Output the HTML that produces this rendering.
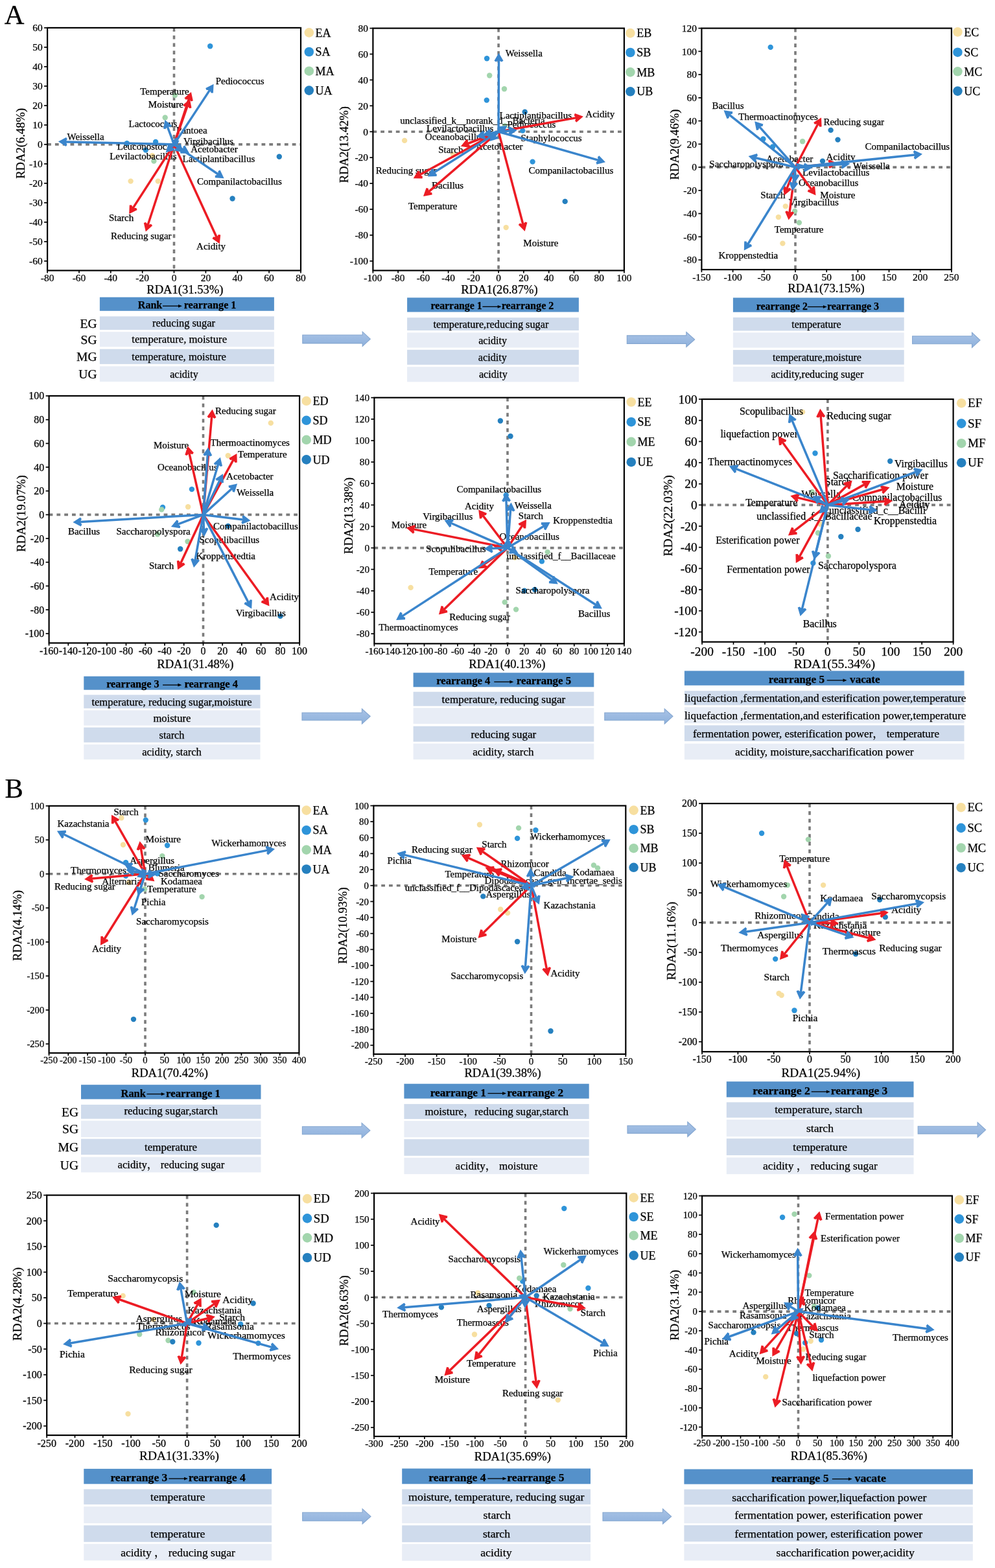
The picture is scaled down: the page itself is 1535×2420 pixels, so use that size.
<!DOCTYPE html>
<html><head><meta charset="utf-8"><title>RDA</title>
<style>html,body{margin:0;padding:0;background:#fff;} svg{display:block;} text{font-family:"Liberation Serif","Noto Serif CJK SC","Noto Sans CJK SC",serif;fill:#000;stroke:#000;stroke-width:0.25px;}</style>
</head><body>
<svg width="1535" height="2420" viewBox="0 0 1535 2420">
<defs><linearGradient id="bag" x1="0" y1="0" x2="0" y2="1"><stop offset="0" stop-color="#a9c3e6"/><stop offset="1" stop-color="#8eb1dc"/></linearGradient></defs>
<rect width="1535" height="2420" fill="#fff"/>
<text x="6.8" y="36.9" font-size="42.5">A</text>
<text x="7.4" y="1230.8" font-size="42.5">B</text>
<g><line x1="73.1" y1="222.9" x2="464.0" y2="222.9" stroke="#7b7b7b" stroke-width="3.6" stroke-dasharray="5.8,6.0"/>
<line x1="268.5" y1="42.9" x2="268.5" y2="417.5" stroke="#7b7b7b" stroke-width="3.6" stroke-dasharray="5.8,6.0"/>
<circle cx="324.2" cy="71.2" r="4.2" fill="#2e94d9"/>
<circle cx="240.1" cy="219.0" r="4.2" fill="#2e94d9"/>
<circle cx="224.8" cy="231.6" r="4.2" fill="#2e94d9"/>
<circle cx="195.8" cy="221.3" r="4.2" fill="#2e94d9"/>
<circle cx="270.0" cy="147.1" r="4.2" fill="#a2d5ad"/>
<circle cx="254.7" cy="181.5" r="4.2" fill="#a2d5ad"/>
<circle cx="237.4" cy="248.6" r="4.2" fill="#a2d5ad"/>
<circle cx="201.6" cy="279.6" r="4.2" fill="#f7dfa0"/>
<circle cx="243.8" cy="279.6" r="4.2" fill="#f7dfa0"/>
<circle cx="235.0" cy="240.1" r="4.2" fill="#f7dfa0"/>
<circle cx="430.8" cy="241.8" r="4.2" fill="#2580bf"/>
<circle cx="358.6" cy="306.5" r="4.2" fill="#2580bf"/>
<text x="216.2" y="145.6" font-size="15.00">Temperature</text>
<text x="228.8" y="165.7" font-size="15.00">Moisture</text>
<text x="198.5" y="196.3" font-size="15.00">Lactococcus</text>
<text x="272.1" y="205.5" font-size="15.00">Pantoea</text>
<text x="103.5" y="216.1" font-size="15.00">Weissella</text>
<text x="283.0" y="222.5" font-size="15.00">Virgibacillus</text>
<text x="180.8" y="231.0" font-size="15.00">Leuconostoc</text>
<text x="294.2" y="235.1" font-size="15.00">Acetobacter</text>
<text x="169.2" y="246.0" font-size="15.00">Levilactobacillus</text>
<text x="281.6" y="250.1" font-size="15.00">Lactiplantibacillus</text>
<text x="332.7" y="129.9" font-size="15.00">Pediococcus</text>
<text x="304.1" y="284.8" font-size="15.00">Companilactobacillus</text>
<text x="167.9" y="341.0" font-size="15.00">Starch</text>
<text x="170.9" y="369.0" font-size="15.00">Reducing sugar</text>
<text x="303.1" y="385.3" font-size="15.00">Acidity</text>
<path d="M268.5,222.9L291.2,153.2" stroke="#ec1c24" stroke-width="3.5" fill="none"/>
<path d="M294.9,142.0L284.5,151.2L286.5,153.8L289.4,153.2L292.8,154.2L294.7,156.5L297.8,155.6Z" fill="#ec1c24"/>
<path d="M268.5,222.9L289.0,164.0" stroke="#ec1c24" stroke-width="3.5" fill="none"/>
<path d="M292.9,152.9L282.3,161.9L284.3,164.5L287.2,163.9L290.5,165.1L292.4,167.3L295.5,166.5Z" fill="#ec1c24"/>
<path d="M268.5,222.9L205.6,320.4" stroke="#ec1c24" stroke-width="3.5" fill="none"/>
<path d="M199.2,330.3L211.6,324.0L210.3,321.1L207.4,320.9L204.4,319.0L203.1,316.4L199.8,316.4Z" fill="#ec1c24"/>
<path d="M268.5,222.9L228.4,346.3" stroke="#ec1c24" stroke-width="3.5" fill="none"/>
<path d="M224.8,357.6L235.1,348.3L233.1,345.8L230.2,346.4L226.9,345.3L224.9,343.1L221.8,344.0Z" fill="#ec1c24"/>
<path d="M268.5,222.9L333.9,365.6" stroke="#ec1c24" stroke-width="3.5" fill="none"/>
<path d="M338.8,376.3L340.2,362.5L337.0,362.0L335.3,364.4L332.1,365.8L329.2,365.5L327.5,368.3Z" fill="#ec1c24"/>
<path d="M268.5,222.9L101.7,218.9" stroke="#3a85cc" stroke-width="3.5" fill="none"/>
<path d="M89.9,218.6L101.7,225.9L103.6,223.3L102.2,220.7L102.2,217.2L103.8,214.7L102.1,211.9Z" fill="#3a85cc"/>
<path d="M268.5,222.9L323.2,139.6" stroke="#3a85cc" stroke-width="3.5" fill="none"/>
<path d="M329.6,129.7L317.2,135.9L318.5,138.9L321.4,139.1L324.4,141.0L325.7,143.6L328.9,143.6Z" fill="#3a85cc"/>
<path d="M268.5,222.9L258.5,196.0" stroke="#3a85cc" stroke-width="3.5" fill="none"/>
<path d="M254.4,184.9L252.0,198.6L255.2,199.3L257.0,197.0L260.3,195.8L263.2,196.3L265.1,193.7Z" fill="#3a85cc"/>
<path d="M268.5,222.9L335.9,268.5" stroke="#3a85cc" stroke-width="3.5" fill="none"/>
<path d="M345.6,275.2L339.6,262.6L336.6,263.9L336.4,266.8L334.5,269.7L331.8,271.0L331.8,274.2Z" fill="#3a85cc"/>
<path d="M268.5,222.9L282.0,230.7" stroke="#3a85cc" stroke-width="3.5" fill="none"/>
<path d="M292.2,236.7L285.3,224.6L282.4,226.0L282.4,229.0L280.7,232.0L278.1,233.4L278.3,236.7Z" fill="#3a85cc"/>
<path d="M268.5,222.9L264.2,227.1" stroke="#3a85cc" stroke-width="3.5" fill="none"/>
<path d="M255.7,235.3L269.2,232.0L268.6,228.8L265.8,228.0L263.3,225.5L262.7,222.6L259.5,221.9Z" fill="#3a85cc"/>
<path d="M268.5,222.9L270.7,221.2" stroke="#3a85cc" stroke-width="3.5" fill="none"/>
<path d="M276.5,216.6L267.7,217.8L267.8,219.9L269.2,220.1L271.4,222.9L271.3,224.3L273.3,224.9Z" fill="#3a85cc"/>
<path d="M268.5,222.9L274.2,227.5" stroke="#3a85cc" stroke-width="3.5" fill="none"/>
<path d="M283.3,235.0L278.5,222.0L275.4,222.9L274.9,225.8L272.7,228.5L269.9,229.6L269.6,232.8Z" fill="#3a85cc"/>
<path d="M268.5,222.9L269.6,220.0" stroke="#3a85cc" stroke-width="3.5" fill="none"/>
<path d="M272.4,211.8L264.6,218.5L266.0,220.4L267.8,219.9L271.1,221.0L272.1,222.5L274.4,221.9Z" fill="#3a85cc"/>
<path d="M268.5,222.9L266.9,223.8" stroke="#3a85cc" stroke-width="3.5" fill="none"/>
<path d="M262.9,226.1L268.6,226.2L268.7,224.8L268.2,225.1L266.4,222.1L267.0,221.8L265.8,221.2Z" fill="#3a85cc"/>
<rect x="73.1" y="42.9" width="390.9" height="374.6" fill="none" stroke="#000" stroke-width="2.2"/>
<line x1="73.1" y1="417.5" x2="73.1" y2="421.6" stroke="#000" stroke-width="1.7"/>
<text x="73.1" y="434.2" font-size="15.5" text-anchor="middle">-80</text>
<line x1="122.0" y1="417.5" x2="122.0" y2="421.6" stroke="#000" stroke-width="1.7"/>
<text x="122.0" y="434.2" font-size="15.5" text-anchor="middle">-60</text>
<line x1="170.8" y1="417.5" x2="170.8" y2="421.6" stroke="#000" stroke-width="1.7"/>
<text x="170.8" y="434.2" font-size="15.5" text-anchor="middle">-40</text>
<line x1="219.7" y1="417.5" x2="219.7" y2="421.6" stroke="#000" stroke-width="1.7"/>
<text x="219.7" y="434.2" font-size="15.5" text-anchor="middle">-20</text>
<line x1="268.5" y1="417.5" x2="268.5" y2="421.6" stroke="#000" stroke-width="1.7"/>
<text x="268.5" y="434.2" font-size="15.5" text-anchor="middle">0</text>
<line x1="317.4" y1="417.5" x2="317.4" y2="421.6" stroke="#000" stroke-width="1.7"/>
<text x="317.4" y="434.2" font-size="15.5" text-anchor="middle">20</text>
<line x1="366.3" y1="417.5" x2="366.3" y2="421.6" stroke="#000" stroke-width="1.7"/>
<text x="366.3" y="434.2" font-size="15.5" text-anchor="middle">40</text>
<line x1="415.1" y1="417.5" x2="415.1" y2="421.6" stroke="#000" stroke-width="1.7"/>
<text x="415.1" y="434.2" font-size="15.5" text-anchor="middle">60</text>
<line x1="464.0" y1="417.5" x2="464.0" y2="421.6" stroke="#000" stroke-width="1.7"/>
<text x="464.0" y="434.2" font-size="15.5" text-anchor="middle">80</text>
<line x1="68.1" y1="402.9" x2="73.1" y2="402.9" stroke="#000" stroke-width="1.7"/>
<text x="65.7" y="408.1" font-size="15.5" text-anchor="end">-60</text>
<line x1="68.1" y1="372.9" x2="73.1" y2="372.9" stroke="#000" stroke-width="1.7"/>
<text x="65.7" y="378.1" font-size="15.5" text-anchor="end">-50</text>
<line x1="68.1" y1="342.9" x2="73.1" y2="342.9" stroke="#000" stroke-width="1.7"/>
<text x="65.7" y="348.1" font-size="15.5" text-anchor="end">-40</text>
<line x1="68.1" y1="312.9" x2="73.1" y2="312.9" stroke="#000" stroke-width="1.7"/>
<text x="65.7" y="318.1" font-size="15.5" text-anchor="end">-30</text>
<line x1="68.1" y1="282.9" x2="73.1" y2="282.9" stroke="#000" stroke-width="1.7"/>
<text x="65.7" y="288.1" font-size="15.5" text-anchor="end">-20</text>
<line x1="68.1" y1="252.9" x2="73.1" y2="252.9" stroke="#000" stroke-width="1.7"/>
<text x="65.7" y="258.1" font-size="15.5" text-anchor="end">-10</text>
<line x1="68.1" y1="222.9" x2="73.1" y2="222.9" stroke="#000" stroke-width="1.7"/>
<text x="65.7" y="228.2" font-size="15.5" text-anchor="end">0</text>
<line x1="68.1" y1="192.9" x2="73.1" y2="192.9" stroke="#000" stroke-width="1.7"/>
<text x="65.7" y="198.2" font-size="15.5" text-anchor="end">10</text>
<line x1="68.1" y1="162.9" x2="73.1" y2="162.9" stroke="#000" stroke-width="1.7"/>
<text x="65.7" y="168.2" font-size="15.5" text-anchor="end">20</text>
<line x1="68.1" y1="132.9" x2="73.1" y2="132.9" stroke="#000" stroke-width="1.7"/>
<text x="65.7" y="138.2" font-size="15.5" text-anchor="end">30</text>
<line x1="68.1" y1="102.9" x2="73.1" y2="102.9" stroke="#000" stroke-width="1.7"/>
<text x="65.7" y="108.2" font-size="15.5" text-anchor="end">40</text>
<line x1="68.1" y1="72.9" x2="73.1" y2="72.9" stroke="#000" stroke-width="1.7"/>
<text x="65.7" y="78.2" font-size="15.5" text-anchor="end">50</text>
<line x1="68.1" y1="42.9" x2="73.1" y2="42.9" stroke="#000" stroke-width="1.7"/>
<text x="65.7" y="48.2" font-size="15.5" text-anchor="end">60</text>
<text x="285.4" y="452.9" font-size="18.60" text-anchor="middle">RDA1(31.53%)</text>
<text transform="translate(37.7,221.3) rotate(-90)" x="0" y="0" font-size="18.60" text-anchor="middle">RDA2(6.48%)</text>
<circle cx="476.8" cy="50.4" r="7.3" fill="#f7dfa0"/>
<text x="486.6" y="56.5" font-size="18.00">EA</text>
<circle cx="476.8" cy="80.0" r="7.3" fill="#2e94d9"/>
<text x="486.6" y="86.1" font-size="18.00">SA</text>
<circle cx="476.8" cy="109.7" r="7.3" fill="#a2d5ad"/>
<text x="486.6" y="115.8" font-size="18.00">MA</text>
<circle cx="476.8" cy="139.6" r="7.3" fill="#2580bf"/>
<text x="486.6" y="145.7" font-size="18.00">UA</text></g>
<g><line x1="575.4" y1="203.3" x2="962.9" y2="203.3" stroke="#7b7b7b" stroke-width="3.6" stroke-dasharray="5.8,6.0"/>
<line x1="769.1" y1="43.6" x2="769.1" y2="417.5" stroke="#7b7b7b" stroke-width="3.6" stroke-dasharray="5.8,6.0"/>
<circle cx="751.1" cy="90.2" r="4.2" fill="#2e94d9"/>
<circle cx="750.8" cy="154.6" r="4.2" fill="#2e94d9"/>
<circle cx="821.6" cy="249.6" r="4.2" fill="#2e94d9"/>
<circle cx="806.3" cy="201.6" r="4.2" fill="#2e94d9"/>
<circle cx="755.2" cy="116.5" r="4.2" fill="#a2d5ad"/>
<circle cx="778.0" cy="137.2" r="4.2" fill="#a2d5ad"/>
<circle cx="779.0" cy="194.1" r="4.2" fill="#a2d5ad"/>
<circle cx="624.1" cy="216.9" r="4.2" fill="#f7dfa0"/>
<circle cx="780.7" cy="351.1" r="4.2" fill="#f7dfa0"/>
<circle cx="699.0" cy="238.4" r="4.2" fill="#f7dfa0"/>
<circle cx="809.7" cy="172.7" r="4.2" fill="#2580bf"/>
<circle cx="871.7" cy="310.9" r="4.2" fill="#2580bf"/>
<text x="779.7" y="86.7" font-size="15.00">Weissella</text>
<text x="770.5" y="182.7" font-size="15.00">Lactiplantibacillus</text>
<text x="903.3" y="181.0" font-size="15.00">Acidity</text>
<text x="617.3" y="191.2" font-size="15.00">unclassified_k__norank_d__Bacteria</text>
<text x="782.4" y="197.3" font-size="15.00">Pediococcus</text>
<text x="658.1" y="203.1" font-size="15.00">Levilactobacillus</text>
<text x="655.7" y="215.7" font-size="15.00">Oceanobacillus</text>
<text x="803.5" y="217.8" font-size="15.00">Staphylococcus</text>
<text x="676.2" y="236.2" font-size="15.00">Starch</text>
<text x="734.1" y="231.4" font-size="15.00">Acetobacter</text>
<text x="815.5" y="268.2" font-size="15.00">Companilactobacillus</text>
<text x="579.8" y="267.8" font-size="15.00">Reducing sugar</text>
<text x="666.0" y="290.6" font-size="15.00">Bacillus</text>
<text x="629.9" y="322.6" font-size="15.00">Temperature</text>
<text x="807.3" y="379.5" font-size="15.00">Moisture</text>
<path d="M769.1,203.3L888.3,181.9" stroke="#ec1c24" stroke-width="3.5" fill="none"/>
<path d="M899.9,179.8L886.9,175.0L885.6,178.0L887.5,180.3L888.1,183.7L887.1,186.5L889.3,188.8Z" fill="#ec1c24"/>
<path d="M769.1,203.3L806.7,345.5" stroke="#ec1c24" stroke-width="3.5" fill="none"/>
<path d="M809.7,356.9L813.4,343.5L810.3,342.4L808.2,344.5L804.8,345.4L802.0,344.6L799.8,347.1Z" fill="#ec1c24"/>
<path d="M769.1,203.3L662.0,295.4" stroke="#ec1c24" stroke-width="3.5" fill="none"/>
<path d="M653.0,303.1L666.7,300.6L666.3,297.3L663.5,296.4L661.2,293.7L660.7,290.8L657.6,289.9Z" fill="#ec1c24"/>
<path d="M769.1,203.3L648.1,269.5" stroke="#ec1c24" stroke-width="3.5" fill="none"/>
<path d="M637.7,275.2L651.6,275.5L651.9,272.3L649.3,270.8L647.7,267.7L647.7,264.8L644.9,263.3Z" fill="#ec1c24"/>
<path d="M769.1,203.3L721.9,221.5" stroke="#ec1c24" stroke-width="3.5" fill="none"/>
<path d="M710.9,225.8L724.6,228.0L725.3,224.8L723.0,223.0L721.8,219.7L722.2,216.8L719.6,214.9Z" fill="#ec1c24"/>
<path d="M769.1,203.3L769.5,93.5" stroke="#3a85cc" stroke-width="3.5" fill="none"/>
<path d="M769.5,81.7L762.5,93.7L765.2,95.5L767.7,94.0L771.2,94.0L773.8,95.5L776.5,93.7Z" fill="#3a85cc"/>
<path d="M769.1,203.3L922.6,247.1" stroke="#3a85cc" stroke-width="3.5" fill="none"/>
<path d="M934.0,250.3L924.3,240.3L921.9,242.4L922.6,245.2L921.7,248.6L919.5,250.6L920.5,253.7Z" fill="#3a85cc"/>
<path d="M769.1,203.3L669.8,266.1" stroke="#3a85cc" stroke-width="3.5" fill="none"/>
<path d="M659.8,272.4L673.7,271.9L673.8,268.7L671.2,267.3L669.3,264.4L669.2,261.4L666.2,260.1Z" fill="#3a85cc"/>
<path d="M769.1,203.3L746.3,208.5" stroke="#3a85cc" stroke-width="3.5" fill="none"/>
<path d="M734.8,211.1L748.0,215.3L749.2,212.2L747.1,210.1L746.4,206.7L747.2,203.9L744.9,201.6Z" fill="#3a85cc"/>
<path d="M769.1,203.3L786.0,201.9" stroke="#3a85cc" stroke-width="3.5" fill="none"/>
<path d="M797.8,200.9L785.2,194.9L783.6,197.8L785.4,200.2L785.6,203.7L784.4,206.3L786.4,208.9Z" fill="#3a85cc"/>
<path d="M769.1,203.3L756.6,205.6" stroke="#3a85cc" stroke-width="3.5" fill="none"/>
<path d="M745.0,207.7L758.0,212.4L759.3,209.5L757.4,207.2L756.7,203.8L757.8,201.0L755.5,198.7Z" fill="#3a85cc"/>
<path d="M769.1,203.3L772.7,200.8" stroke="#3a85cc" stroke-width="3.5" fill="none"/>
<path d="M782.4,194.1L768.6,195.2L768.6,198.4L771.3,199.6L773.3,202.5L773.5,205.5L776.5,206.7Z" fill="#3a85cc"/>
<path d="M769.1,203.3L763.3,209.4" stroke="#3a85cc" stroke-width="3.5" fill="none"/>
<path d="M755.2,217.9L768.5,214.1L767.8,210.9L764.9,210.2L762.4,207.8L761.6,205.0L758.4,204.4Z" fill="#3a85cc"/>
<rect x="575.4" y="43.6" width="387.5" height="373.9" fill="none" stroke="#000" stroke-width="2.2"/>
<line x1="575.4" y1="417.5" x2="575.4" y2="421.6" stroke="#000" stroke-width="1.7"/>
<text x="575.4" y="434.1" font-size="15.4" text-anchor="middle">-100</text>
<line x1="614.1" y1="417.5" x2="614.1" y2="421.6" stroke="#000" stroke-width="1.7"/>
<text x="614.1" y="434.1" font-size="15.4" text-anchor="middle">-80</text>
<line x1="652.9" y1="417.5" x2="652.9" y2="421.6" stroke="#000" stroke-width="1.7"/>
<text x="652.9" y="434.1" font-size="15.4" text-anchor="middle">-60</text>
<line x1="691.6" y1="417.5" x2="691.6" y2="421.6" stroke="#000" stroke-width="1.7"/>
<text x="691.6" y="434.1" font-size="15.4" text-anchor="middle">-40</text>
<line x1="730.4" y1="417.5" x2="730.4" y2="421.6" stroke="#000" stroke-width="1.7"/>
<text x="730.4" y="434.1" font-size="15.4" text-anchor="middle">-20</text>
<line x1="769.1" y1="417.5" x2="769.1" y2="421.6" stroke="#000" stroke-width="1.7"/>
<text x="769.1" y="434.1" font-size="15.4" text-anchor="middle">0</text>
<line x1="807.9" y1="417.5" x2="807.9" y2="421.6" stroke="#000" stroke-width="1.7"/>
<text x="807.9" y="434.1" font-size="15.4" text-anchor="middle">20</text>
<line x1="846.7" y1="417.5" x2="846.7" y2="421.6" stroke="#000" stroke-width="1.7"/>
<text x="846.7" y="434.1" font-size="15.4" text-anchor="middle">40</text>
<line x1="885.4" y1="417.5" x2="885.4" y2="421.6" stroke="#000" stroke-width="1.7"/>
<text x="885.4" y="434.1" font-size="15.4" text-anchor="middle">60</text>
<line x1="924.2" y1="417.5" x2="924.2" y2="421.6" stroke="#000" stroke-width="1.7"/>
<text x="924.2" y="434.1" font-size="15.4" text-anchor="middle">80</text>
<line x1="962.9" y1="417.5" x2="962.9" y2="421.6" stroke="#000" stroke-width="1.7"/>
<text x="962.9" y="434.1" font-size="15.4" text-anchor="middle">100</text>
<line x1="570.4" y1="402.9" x2="575.4" y2="402.9" stroke="#000" stroke-width="1.7"/>
<text x="568.0" y="408.1" font-size="15.4" text-anchor="end">-100</text>
<line x1="570.4" y1="362.9" x2="575.4" y2="362.9" stroke="#000" stroke-width="1.7"/>
<text x="568.0" y="368.2" font-size="15.4" text-anchor="end">-80</text>
<line x1="570.4" y1="323.0" x2="575.4" y2="323.0" stroke="#000" stroke-width="1.7"/>
<text x="568.0" y="328.3" font-size="15.4" text-anchor="end">-60</text>
<line x1="570.4" y1="283.1" x2="575.4" y2="283.1" stroke="#000" stroke-width="1.7"/>
<text x="568.0" y="288.3" font-size="15.4" text-anchor="end">-40</text>
<line x1="570.4" y1="243.2" x2="575.4" y2="243.2" stroke="#000" stroke-width="1.7"/>
<text x="568.0" y="248.4" font-size="15.4" text-anchor="end">-20</text>
<line x1="570.4" y1="203.3" x2="575.4" y2="203.3" stroke="#000" stroke-width="1.7"/>
<text x="568.0" y="208.5" font-size="15.4" text-anchor="end">0</text>
<line x1="570.4" y1="163.3" x2="575.4" y2="163.3" stroke="#000" stroke-width="1.7"/>
<text x="568.0" y="168.6" font-size="15.4" text-anchor="end">20</text>
<line x1="570.4" y1="123.4" x2="575.4" y2="123.4" stroke="#000" stroke-width="1.7"/>
<text x="568.0" y="128.7" font-size="15.4" text-anchor="end">40</text>
<line x1="570.4" y1="83.5" x2="575.4" y2="83.5" stroke="#000" stroke-width="1.7"/>
<text x="568.0" y="88.7" font-size="15.4" text-anchor="end">60</text>
<line x1="570.4" y1="43.6" x2="575.4" y2="43.6" stroke="#000" stroke-width="1.7"/>
<text x="568.0" y="48.8" font-size="15.4" text-anchor="end">80</text>
<text x="770.5" y="452.9" font-size="18.60" text-anchor="middle">RDA1(26.87%)</text>
<text transform="translate(537.4,223.1) rotate(-90)" x="0" y="0" font-size="18.60" text-anchor="middle">RDA2(13.42%)</text>
<circle cx="972.4" cy="51.1" r="7.3" fill="#f7dfa0"/>
<text x="982.2" y="57.2" font-size="18.00">EB</text>
<circle cx="972.4" cy="81.0" r="7.3" fill="#2e94d9"/>
<text x="982.2" y="87.2" font-size="18.00">SB</text>
<circle cx="972.4" cy="111.4" r="7.3" fill="#a2d5ad"/>
<text x="982.2" y="117.5" font-size="18.00">MB</text>
<circle cx="972.4" cy="141.3" r="7.3" fill="#2580bf"/>
<text x="982.2" y="147.4" font-size="18.00">UB</text></g>
<g><line x1="1082.4" y1="258.1" x2="1467.9" y2="258.1" stroke="#7b7b7b" stroke-width="3.6" stroke-dasharray="5.8,6.0"/>
<line x1="1227.0" y1="43.6" x2="1227.0" y2="416.1" stroke="#7b7b7b" stroke-width="3.6" stroke-dasharray="5.8,6.0"/>
<circle cx="1188.7" cy="72.9" r="4.2" fill="#2e94d9"/>
<circle cx="1177.4" cy="214.5" r="4.2" fill="#2e94d9"/>
<circle cx="1192.1" cy="226.5" r="4.2" fill="#2e94d9"/>
<circle cx="1238.1" cy="218.3" r="4.2" fill="#a2d5ad"/>
<circle cx="1226.1" cy="325.9" r="4.2" fill="#a2d5ad"/>
<circle cx="1232.9" cy="343.6" r="4.2" fill="#a2d5ad"/>
<circle cx="1211.8" cy="318.4" r="4.2" fill="#f7dfa0"/>
<circle cx="1200.9" cy="335.1" r="4.2" fill="#f7dfa0"/>
<circle cx="1207.4" cy="375.6" r="4.2" fill="#f7dfa0"/>
<circle cx="1281.6" cy="200.9" r="4.2" fill="#2580bf"/>
<circle cx="1292.5" cy="215.6" r="4.2" fill="#2580bf"/>
<circle cx="1269.0" cy="248.6" r="4.2" fill="#2580bf"/>
<text x="1098.4" y="168.0" font-size="15.00">Bacillus</text>
<text x="1139.3" y="185.4" font-size="15.00">Thermoactinomyces</text>
<text x="1270.4" y="192.9" font-size="15.00">Reducing sugar</text>
<text x="1334.4" y="231.4" font-size="15.00">Companilactobacillus</text>
<text x="1181.9" y="249.8" font-size="15.00">Acetobacter</text>
<text x="1274.5" y="247.4" font-size="15.00">Acidity</text>
<text x="1094.3" y="258.3" font-size="15.00">Saccharopolyspora</text>
<text x="1315.7" y="261.0" font-size="15.00">Weissella</text>
<text x="1238.1" y="270.5" font-size="15.00">Levilactobacillus</text>
<text x="1231.9" y="286.6" font-size="15.00">Oceanobacillus</text>
<text x="1173.3" y="306.0" font-size="15.00">Starch</text>
<text x="1265.3" y="306.0" font-size="15.00">Moisture</text>
<text x="1216.6" y="317.2" font-size="15.00">Virgibacillus</text>
<text x="1194.8" y="359.1" font-size="15.00">Temperature</text>
<text x="1108.6" y="398.9" font-size="15.00">Kroppenstedtia</text>
<path d="M1227.0,258.1L1261.5,192.0" stroke="#ec1c24" stroke-width="3.5" fill="none"/>
<path d="M1267.0,181.5L1255.2,188.9L1256.8,191.7L1259.8,191.6L1262.9,193.2L1264.4,195.7L1267.6,195.4Z" fill="#ec1c24"/>
<path d="M1227.0,258.1L1279.8,253.1" stroke="#ec1c24" stroke-width="3.5" fill="none"/>
<path d="M1291.5,252.0L1278.9,246.2L1277.4,249.0L1279.1,251.4L1279.4,254.9L1278.2,257.6L1280.2,260.1Z" fill="#ec1c24"/>
<path d="M1227.0,258.1L1251.5,291.8" stroke="#ec1c24" stroke-width="3.5" fill="none"/>
<path d="M1258.5,301.4L1257.1,287.6L1253.8,287.7L1252.7,290.4L1249.8,292.5L1246.9,292.8L1245.8,295.8Z" fill="#ec1c24"/>
<path d="M1227.0,258.1L1214.1,290.4" stroke="#ec1c24" stroke-width="3.5" fill="none"/>
<path d="M1209.8,301.4L1220.7,292.8L1218.9,290.1L1216.0,290.6L1212.7,289.3L1210.9,287.0L1207.7,287.6Z" fill="#ec1c24"/>
<path d="M1227.0,258.1L1218.1,327.8" stroke="#ec1c24" stroke-width="3.5" fill="none"/>
<path d="M1216.6,339.5L1225.1,328.5L1222.6,326.4L1219.9,327.5L1216.4,327.1L1214.1,325.3L1211.2,326.7Z" fill="#ec1c24"/>
<path d="M1227.0,258.1L1125.7,177.6" stroke="#3a85cc" stroke-width="3.5" fill="none"/>
<path d="M1116.5,170.3L1121.5,183.2L1124.6,182.2L1125.0,179.3L1127.2,176.6L1130.0,175.5L1130.2,172.3Z" fill="#3a85cc"/>
<path d="M1227.0,258.1L1172.0,196.1" stroke="#3a85cc" stroke-width="3.5" fill="none"/>
<path d="M1164.2,187.3L1166.9,200.9L1170.1,200.5L1171.0,197.7L1173.6,195.3L1176.5,194.8L1177.4,191.6Z" fill="#3a85cc"/>
<path d="M1227.0,258.1L1166.1,243.8" stroke="#3a85cc" stroke-width="3.5" fill="none"/>
<path d="M1154.6,241.1L1164.7,250.7L1167.1,248.4L1166.2,245.6L1167.0,242.2L1169.0,240.1L1167.9,237.0Z" fill="#3a85cc"/>
<path d="M1227.0,258.1L1411.2,238.9" stroke="#3a85cc" stroke-width="3.5" fill="none"/>
<path d="M1423.0,237.7L1410.3,232.0L1408.8,234.8L1410.5,237.2L1410.9,240.7L1409.7,243.4L1411.8,245.9Z" fill="#3a85cc"/>
<path d="M1227.0,258.1L1299.5,253.4" stroke="#3a85cc" stroke-width="3.5" fill="none"/>
<path d="M1311.3,252.7L1298.8,246.5L1297.2,249.3L1298.9,251.7L1299.1,255.2L1297.8,257.9L1299.7,260.4Z" fill="#3a85cc"/>
<path d="M1227.0,258.1L1224.1,282.8" stroke="#3a85cc" stroke-width="3.5" fill="none"/>
<path d="M1222.7,294.6L1231.1,283.5L1228.6,281.4L1225.9,282.6L1222.4,282.1L1220.1,280.4L1217.2,281.8Z" fill="#3a85cc"/>
<path d="M1227.0,258.1L1154.0,376.5" stroke="#3a85cc" stroke-width="3.5" fill="none"/>
<path d="M1147.8,386.5L1160.1,380.0L1158.7,377.0L1155.8,377.0L1152.8,375.1L1151.4,372.5L1148.2,372.6Z" fill="#3a85cc"/>
<path d="M1227.0,258.1L1230.3,257.2" stroke="#3a85cc" stroke-width="3.5" fill="none"/>
<path d="M1239.8,254.7L1228.5,251.7L1227.7,254.2L1229.4,255.7L1230.3,259.1L1229.5,261.2L1231.6,263.0Z" fill="#3a85cc"/>
<path d="M1227.0,258.1L1241.6,258.5" stroke="#3a85cc" stroke-width="3.5" fill="none"/>
<path d="M1253.4,258.8L1241.6,251.5L1239.7,254.2L1241.1,256.7L1241.0,260.2L1239.5,262.8L1241.2,265.5Z" fill="#3a85cc"/>
<path d="M1227.0,258.1L1226.5,270.9" stroke="#3a85cc" stroke-width="3.5" fill="none"/>
<path d="M1226.1,282.6L1233.5,270.9L1230.9,269.0L1228.3,270.4L1224.8,270.3L1222.3,268.7L1219.6,270.4Z" fill="#3a85cc"/>
<rect x="1082.4" y="43.6" width="385.5" height="372.5" fill="none" stroke="#000" stroke-width="2.2"/>
<line x1="1082.4" y1="416.1" x2="1082.4" y2="420.2" stroke="#000" stroke-width="1.7"/>
<text x="1082.4" y="432.8" font-size="15.5" text-anchor="middle">-150</text>
<line x1="1130.6" y1="416.1" x2="1130.6" y2="420.2" stroke="#000" stroke-width="1.7"/>
<text x="1130.6" y="432.8" font-size="15.5" text-anchor="middle">-100</text>
<line x1="1178.8" y1="416.1" x2="1178.8" y2="420.2" stroke="#000" stroke-width="1.7"/>
<text x="1178.8" y="432.8" font-size="15.5" text-anchor="middle">-50</text>
<line x1="1227.0" y1="416.1" x2="1227.0" y2="420.2" stroke="#000" stroke-width="1.7"/>
<text x="1227.0" y="432.8" font-size="15.5" text-anchor="middle">0</text>
<line x1="1275.2" y1="416.1" x2="1275.2" y2="420.2" stroke="#000" stroke-width="1.7"/>
<text x="1275.2" y="432.8" font-size="15.5" text-anchor="middle">50</text>
<line x1="1323.4" y1="416.1" x2="1323.4" y2="420.2" stroke="#000" stroke-width="1.7"/>
<text x="1323.4" y="432.8" font-size="15.5" text-anchor="middle">100</text>
<line x1="1371.5" y1="416.1" x2="1371.5" y2="420.2" stroke="#000" stroke-width="1.7"/>
<text x="1371.5" y="432.8" font-size="15.5" text-anchor="middle">150</text>
<line x1="1419.7" y1="416.1" x2="1419.7" y2="420.2" stroke="#000" stroke-width="1.7"/>
<text x="1419.7" y="432.8" font-size="15.5" text-anchor="middle">200</text>
<line x1="1467.9" y1="416.1" x2="1467.9" y2="420.2" stroke="#000" stroke-width="1.7"/>
<text x="1467.9" y="432.8" font-size="15.5" text-anchor="middle">250</text>
<line x1="1077.4" y1="401.2" x2="1082.4" y2="401.2" stroke="#000" stroke-width="1.7"/>
<text x="1075.0" y="406.4" font-size="15.5" text-anchor="end">-80</text>
<line x1="1077.4" y1="365.4" x2="1082.4" y2="365.4" stroke="#000" stroke-width="1.7"/>
<text x="1075.0" y="370.7" font-size="15.5" text-anchor="end">-60</text>
<line x1="1077.4" y1="329.6" x2="1082.4" y2="329.6" stroke="#000" stroke-width="1.7"/>
<text x="1075.0" y="334.9" font-size="15.5" text-anchor="end">-40</text>
<line x1="1077.4" y1="293.9" x2="1082.4" y2="293.9" stroke="#000" stroke-width="1.7"/>
<text x="1075.0" y="299.2" font-size="15.5" text-anchor="end">-20</text>
<line x1="1077.4" y1="258.1" x2="1082.4" y2="258.1" stroke="#000" stroke-width="1.7"/>
<text x="1075.0" y="263.4" font-size="15.5" text-anchor="end">0</text>
<line x1="1077.4" y1="222.4" x2="1082.4" y2="222.4" stroke="#000" stroke-width="1.7"/>
<text x="1075.0" y="227.6" font-size="15.5" text-anchor="end">20</text>
<line x1="1077.4" y1="186.6" x2="1082.4" y2="186.6" stroke="#000" stroke-width="1.7"/>
<text x="1075.0" y="191.9" font-size="15.5" text-anchor="end">40</text>
<line x1="1077.4" y1="150.9" x2="1082.4" y2="150.9" stroke="#000" stroke-width="1.7"/>
<text x="1075.0" y="156.1" font-size="15.5" text-anchor="end">60</text>
<line x1="1077.4" y1="115.1" x2="1082.4" y2="115.1" stroke="#000" stroke-width="1.7"/>
<text x="1075.0" y="120.4" font-size="15.5" text-anchor="end">80</text>
<line x1="1077.4" y1="79.3" x2="1082.4" y2="79.3" stroke="#000" stroke-width="1.7"/>
<text x="1075.0" y="84.6" font-size="15.5" text-anchor="end">100</text>
<line x1="1077.4" y1="43.6" x2="1082.4" y2="43.6" stroke="#000" stroke-width="1.7"/>
<text x="1075.0" y="48.9" font-size="15.5" text-anchor="end">120</text>
<text x="1274.5" y="451.2" font-size="18.60" text-anchor="middle">RDA1(73.15%)</text>
<text transform="translate(1046.9,223.1) rotate(-90)" x="0" y="0" font-size="18.60" text-anchor="middle">RDA2(9.46%)</text>
<circle cx="1477.4" cy="49.4" r="7.3" fill="#f7dfa0"/>
<text x="1487.2" y="55.5" font-size="18.00">EC</text>
<circle cx="1477.4" cy="80.7" r="7.3" fill="#2e94d9"/>
<text x="1487.2" y="86.8" font-size="18.00">SC</text>
<circle cx="1477.4" cy="110.3" r="7.3" fill="#a2d5ad"/>
<text x="1487.2" y="116.5" font-size="18.00">MC</text>
<circle cx="1477.4" cy="140.6" r="7.3" fill="#2580bf"/>
<text x="1487.2" y="146.8" font-size="18.00">UC</text></g>
<g><line x1="75.6" y1="794.4" x2="462.1" y2="794.4" stroke="#7b7b7b" stroke-width="3.6" stroke-dasharray="5.8,6.0"/>
<line x1="313.5" y1="611.0" x2="313.5" y2="992.4" stroke="#7b7b7b" stroke-width="3.6" stroke-dasharray="5.8,6.0"/>
<circle cx="417.8" cy="652.9" r="4.2" fill="#f7dfa0"/>
<circle cx="351.8" cy="703.3" r="4.2" fill="#f7dfa0"/>
<circle cx="290.1" cy="782.3" r="4.2" fill="#f7dfa0"/>
<circle cx="295.9" cy="755.1" r="4.2" fill="#2e94d9"/>
<circle cx="251.0" cy="783.0" r="4.2" fill="#2e94d9"/>
<circle cx="249.3" cy="786.4" r="4.2" fill="#a2d5ad"/>
<circle cx="243.1" cy="824.5" r="4.2" fill="#a2d5ad"/>
<circle cx="289.5" cy="835.8" r="4.2" fill="#a2d5ad"/>
<circle cx="278.2" cy="847.3" r="4.2" fill="#2580bf"/>
<circle cx="351.8" cy="811.9" r="4.2" fill="#2580bf"/>
<circle cx="432.5" cy="950.9" r="4.2" fill="#2580bf"/>
<text x="332.0" y="639.1" font-size="15.00">Reducing sugar</text>
<text x="237.0" y="691.5" font-size="15.00">Moisture</text>
<text x="324.5" y="688.1" font-size="15.00">Thermoactinomyces</text>
<text x="367.1" y="706.2" font-size="15.00">Temperature</text>
<text x="243.1" y="725.6" font-size="15.00">Oceanobacillus</text>
<text x="349.1" y="739.5" font-size="15.00">Acetobacter</text>
<text x="365.1" y="765.1" font-size="15.00">Weissella</text>
<text x="329.0" y="816.8" font-size="15.00">Companilactobacillus</text>
<text x="104.9" y="825.4" font-size="15.00">Bacillus</text>
<text x="179.5" y="825.4" font-size="15.00">Saccharopolyspora</text>
<text x="307.5" y="838.3" font-size="15.00">Scopulibacillus</text>
<text x="302.4" y="862.8" font-size="15.00">Kroppenstedtia</text>
<text x="229.9" y="877.5" font-size="15.00">Starch</text>
<text x="416.1" y="925.8" font-size="15.00">Acidity</text>
<text x="363.7" y="950.7" font-size="15.00">Virgibacillus</text>
<path d="M313.5,794.4L326.6,643.5" stroke="#ec1c24" stroke-width="3.5" fill="none"/>
<path d="M327.6,631.8L319.6,643.1L322.1,645.2L324.8,643.9L328.3,644.2L330.7,645.9L333.5,644.3Z" fill="#ec1c24"/>
<path d="M313.5,794.4L292.1,700.2" stroke="#ec1c24" stroke-width="3.5" fill="none"/>
<path d="M289.5,688.6L285.3,701.9L288.3,703.1L290.5,701.0L293.9,700.3L296.7,701.2L298.9,698.8Z" fill="#ec1c24"/>
<path d="M313.5,794.4L359.7,710.2" stroke="#ec1c24" stroke-width="3.5" fill="none"/>
<path d="M365.4,699.9L353.5,707.0L355.0,709.9L357.9,709.8L361.0,711.5L362.5,714.1L365.8,713.8Z" fill="#ec1c24"/>
<path d="M313.5,794.4L279.1,868.6" stroke="#ec1c24" stroke-width="3.5" fill="none"/>
<path d="M274.1,879.3L285.5,871.4L283.8,868.6L280.9,868.9L277.7,867.5L276.0,865.0L272.8,865.5Z" fill="#ec1c24"/>
<path d="M313.5,794.4L408.5,926.0" stroke="#ec1c24" stroke-width="3.5" fill="none"/>
<path d="M415.5,935.5L414.1,921.7L410.9,921.8L409.7,924.5L406.8,926.6L403.9,926.9L402.8,929.9Z" fill="#ec1c24"/>
<path d="M313.5,794.4L320.3,702.1" stroke="#3a85cc" stroke-width="3.5" fill="none"/>
<path d="M321.1,690.4L313.3,701.8L315.8,703.8L318.5,702.5L322.0,702.7L324.4,704.4L327.2,702.8Z" fill="#3a85cc"/>
<path d="M313.5,794.4L336.5,717.0" stroke="#3a85cc" stroke-width="3.5" fill="none"/>
<path d="M339.9,705.7L329.7,715.2L331.8,717.7L334.7,717.0L338.0,718.0L340.0,720.1L343.1,719.2Z" fill="#3a85cc"/>
<path d="M313.5,794.4L338.8,741.8" stroke="#3a85cc" stroke-width="3.5" fill="none"/>
<path d="M343.9,731.2L332.4,739.0L334.1,741.8L337.0,741.5L340.2,743.1L341.8,745.5L345.0,745.1Z" fill="#3a85cc"/>
<path d="M313.5,794.4L357.3,754.5" stroke="#3a85cc" stroke-width="3.5" fill="none"/>
<path d="M366.1,746.5L352.5,749.4L353.0,752.6L355.8,753.5L358.2,756.1L358.8,759.0L361.9,759.8Z" fill="#3a85cc"/>
<path d="M313.5,794.4L374.8,802.0" stroke="#3a85cc" stroke-width="3.5" fill="none"/>
<path d="M386.5,803.4L375.5,795.0L373.3,797.4L374.5,800.2L374.1,803.6L372.3,806.0L373.7,808.9Z" fill="#3a85cc"/>
<path d="M313.5,794.4L124.2,805.4" stroke="#3a85cc" stroke-width="3.5" fill="none"/>
<path d="M112.4,806.1L124.8,812.4L126.4,809.6L124.8,807.2L124.6,803.7L125.9,801.0L123.9,798.4Z" fill="#3a85cc"/>
<path d="M313.5,794.4L275.0,808.8" stroke="#3a85cc" stroke-width="3.5" fill="none"/>
<path d="M263.9,812.9L277.6,815.3L278.3,812.1L276.0,810.3L274.8,807.0L275.3,804.1L272.7,802.2Z" fill="#3a85cc"/>
<path d="M313.5,794.4L314.5,816.5" stroke="#3a85cc" stroke-width="3.5" fill="none"/>
<path d="M315.0,828.3L321.4,816.0L318.7,814.3L316.2,815.9L312.7,816.1L310.1,814.7L307.5,816.6Z" fill="#3a85cc"/>
<path d="M313.5,794.4L301.1,864.3" stroke="#3a85cc" stroke-width="3.5" fill="none"/>
<path d="M299.0,875.9L308.0,865.3L305.6,863.1L302.9,864.1L299.4,863.5L297.2,861.6L294.2,862.9Z" fill="#3a85cc"/>
<path d="M313.5,794.4L382.8,929.1" stroke="#3a85cc" stroke-width="3.5" fill="none"/>
<path d="M388.2,939.6L388.9,925.8L385.7,925.4L384.1,927.9L381.0,929.5L378.1,929.3L376.5,932.2Z" fill="#3a85cc"/>
<rect x="75.6" y="611.0" width="386.5" height="381.4" fill="none" stroke="#000" stroke-width="2.2"/>
<line x1="75.6" y1="992.4" x2="75.6" y2="996.5" stroke="#000" stroke-width="1.7"/>
<text x="75.6" y="1009.6" font-size="16.0" text-anchor="middle">-160</text>
<line x1="105.3" y1="992.4" x2="105.3" y2="996.5" stroke="#000" stroke-width="1.7"/>
<text x="105.3" y="1009.6" font-size="16.0" text-anchor="middle">-140</text>
<line x1="135.1" y1="992.4" x2="135.1" y2="996.5" stroke="#000" stroke-width="1.7"/>
<text x="135.1" y="1009.6" font-size="16.0" text-anchor="middle">-120</text>
<line x1="164.8" y1="992.4" x2="164.8" y2="996.5" stroke="#000" stroke-width="1.7"/>
<text x="164.8" y="1009.6" font-size="16.0" text-anchor="middle">-100</text>
<line x1="194.5" y1="992.4" x2="194.5" y2="996.5" stroke="#000" stroke-width="1.7"/>
<text x="194.5" y="1009.6" font-size="16.0" text-anchor="middle">-80</text>
<line x1="224.3" y1="992.4" x2="224.3" y2="996.5" stroke="#000" stroke-width="1.7"/>
<text x="224.3" y="1009.6" font-size="16.0" text-anchor="middle">-60</text>
<line x1="254.0" y1="992.4" x2="254.0" y2="996.5" stroke="#000" stroke-width="1.7"/>
<text x="254.0" y="1009.6" font-size="16.0" text-anchor="middle">-40</text>
<line x1="283.7" y1="992.4" x2="283.7" y2="996.5" stroke="#000" stroke-width="1.7"/>
<text x="283.7" y="1009.6" font-size="16.0" text-anchor="middle">-20</text>
<line x1="313.5" y1="992.4" x2="313.5" y2="996.5" stroke="#000" stroke-width="1.7"/>
<text x="313.5" y="1009.6" font-size="16.0" text-anchor="middle">0</text>
<line x1="343.2" y1="992.4" x2="343.2" y2="996.5" stroke="#000" stroke-width="1.7"/>
<text x="343.2" y="1009.6" font-size="16.0" text-anchor="middle">20</text>
<line x1="372.9" y1="992.4" x2="372.9" y2="996.5" stroke="#000" stroke-width="1.7"/>
<text x="372.9" y="1009.6" font-size="16.0" text-anchor="middle">40</text>
<line x1="402.6" y1="992.4" x2="402.6" y2="996.5" stroke="#000" stroke-width="1.7"/>
<text x="402.6" y="1009.6" font-size="16.0" text-anchor="middle">60</text>
<line x1="432.4" y1="992.4" x2="432.4" y2="996.5" stroke="#000" stroke-width="1.7"/>
<text x="432.4" y="1009.6" font-size="16.0" text-anchor="middle">80</text>
<line x1="462.1" y1="992.4" x2="462.1" y2="996.5" stroke="#000" stroke-width="1.7"/>
<text x="462.1" y="1009.6" font-size="16.0" text-anchor="middle">100</text>
<line x1="70.6" y1="977.8" x2="75.6" y2="977.8" stroke="#000" stroke-width="1.7"/>
<text x="68.2" y="983.2" font-size="16.0" text-anchor="end">-100</text>
<line x1="70.6" y1="941.1" x2="75.6" y2="941.1" stroke="#000" stroke-width="1.7"/>
<text x="68.2" y="946.5" font-size="16.0" text-anchor="end">-80</text>
<line x1="70.6" y1="904.4" x2="75.6" y2="904.4" stroke="#000" stroke-width="1.7"/>
<text x="68.2" y="909.9" font-size="16.0" text-anchor="end">-60</text>
<line x1="70.6" y1="867.7" x2="75.6" y2="867.7" stroke="#000" stroke-width="1.7"/>
<text x="68.2" y="873.2" font-size="16.0" text-anchor="end">-40</text>
<line x1="70.6" y1="831.1" x2="75.6" y2="831.1" stroke="#000" stroke-width="1.7"/>
<text x="68.2" y="836.5" font-size="16.0" text-anchor="end">-20</text>
<line x1="70.6" y1="794.4" x2="75.6" y2="794.4" stroke="#000" stroke-width="1.7"/>
<text x="68.2" y="799.8" font-size="16.0" text-anchor="end">0</text>
<line x1="70.6" y1="757.7" x2="75.6" y2="757.7" stroke="#000" stroke-width="1.7"/>
<text x="68.2" y="763.1" font-size="16.0" text-anchor="end">20</text>
<line x1="70.6" y1="721.0" x2="75.6" y2="721.0" stroke="#000" stroke-width="1.7"/>
<text x="68.2" y="726.5" font-size="16.0" text-anchor="end">40</text>
<line x1="70.6" y1="684.4" x2="75.6" y2="684.4" stroke="#000" stroke-width="1.7"/>
<text x="68.2" y="689.8" font-size="16.0" text-anchor="end">60</text>
<line x1="70.6" y1="647.7" x2="75.6" y2="647.7" stroke="#000" stroke-width="1.7"/>
<text x="68.2" y="653.1" font-size="16.0" text-anchor="end">80</text>
<line x1="70.6" y1="611.0" x2="75.6" y2="611.0" stroke="#000" stroke-width="1.7"/>
<text x="68.2" y="616.4" font-size="16.0" text-anchor="end">100</text>
<text x="301.4" y="1030.9" font-size="18.60" text-anchor="middle">RDA1(31.48%)</text>
<text transform="translate(38.7,792.5) rotate(-90)" x="0" y="0" font-size="18.60" text-anchor="middle">RDA2(19.07%)</text>
<circle cx="472.7" cy="618.8" r="7.3" fill="#f7dfa0"/>
<text x="482.5" y="625.0" font-size="18.00">ED</text>
<circle cx="472.7" cy="648.8" r="7.3" fill="#2e94d9"/>
<text x="482.5" y="654.9" font-size="18.00">SD</text>
<circle cx="472.7" cy="678.8" r="7.3" fill="#a2d5ad"/>
<text x="482.5" y="684.9" font-size="18.00">MD</text>
<circle cx="472.7" cy="709.4" r="7.3" fill="#2580bf"/>
<text x="482.5" y="715.5" font-size="18.00">UD</text></g>
<g><line x1="577.4" y1="845.6" x2="962.9" y2="845.6" stroke="#7b7b7b" stroke-width="3.6" stroke-dasharray="5.8,6.0"/>
<line x1="783.0" y1="613.7" x2="783.0" y2="993.4" stroke="#7b7b7b" stroke-width="3.6" stroke-dasharray="5.8,6.0"/>
<circle cx="771.9" cy="649.5" r="4.2" fill="#2580bf"/>
<circle cx="787.5" cy="673.3" r="4.2" fill="#2580bf"/>
<circle cx="809.0" cy="911.7" r="4.2" fill="#2580bf"/>
<circle cx="825.0" cy="910.0" r="4.2" fill="#2580bf"/>
<circle cx="835.9" cy="866.4" r="4.2" fill="#2e94d9"/>
<circle cx="780.7" cy="764.2" r="4.2" fill="#2e94d9"/>
<circle cx="844.7" cy="852.1" r="4.2" fill="#a2d5ad"/>
<circle cx="778.7" cy="929.4" r="4.2" fill="#a2d5ad"/>
<circle cx="796.1" cy="940.6" r="4.2" fill="#a2d5ad"/>
<circle cx="633.6" cy="906.9" r="4.2" fill="#f7dfa0"/>
<circle cx="794.3" cy="860.6" r="4.2" fill="#f7dfa0"/>
<text x="704.4" y="759.6" font-size="15.00">Companilactobacillus</text>
<text x="717.0" y="785.5" font-size="15.00">Acidity</text>
<text x="793.7" y="784.5" font-size="15.00">Weissella</text>
<text x="652.3" y="801.5" font-size="15.00">Virgibacillus</text>
<text x="799.8" y="800.5" font-size="15.00">Starch</text>
<text x="853.3" y="808.3" font-size="15.00">Kroppenstedtia</text>
<text x="604.0" y="815.1" font-size="15.00">Moisture</text>
<text x="770.5" y="833.2" font-size="15.00">Oceanobacillus</text>
<text x="657.1" y="852.3" font-size="15.00">Scopulibacillus</text>
<text x="781.4" y="862.5" font-size="15.00">unclassified_f__Bacillaceae</text>
<text x="661.5" y="887.3" font-size="15.00">Temperature</text>
<text x="795.4" y="916.3" font-size="15.00">Saccharopolyspora</text>
<text x="892.1" y="952.4" font-size="15.00">Bacillus</text>
<text x="693.2" y="957.2" font-size="15.00">Reducing sugar</text>
<text x="584.2" y="972.8" font-size="15.00">Thermoactinomyces</text>
<path d="M783.0,845.6L638.4,816.9" stroke="#ec1c24" stroke-width="3.5" fill="none"/>
<path d="M626.8,814.6L637.2,823.8L639.5,821.5L638.5,818.8L639.2,815.3L641.2,813.1L639.9,810.1Z" fill="#ec1c24"/>
<path d="M783.0,845.6L745.3,796.1" stroke="#ec1c24" stroke-width="3.5" fill="none"/>
<path d="M738.2,786.7L739.9,800.5L743.1,800.3L744.2,797.6L747.0,795.4L749.9,795.1L751.0,792.0Z" fill="#ec1c24"/>
<path d="M783.0,845.6L805.5,811.5" stroke="#ec1c24" stroke-width="3.5" fill="none"/>
<path d="M812.1,801.7L799.6,807.9L800.9,810.8L803.8,811.0L806.7,812.9L808.0,815.6L811.3,815.6Z" fill="#ec1c24"/>
<path d="M783.0,845.6L747.1,870.9" stroke="#ec1c24" stroke-width="3.5" fill="none"/>
<path d="M737.5,877.6L751.3,876.5L751.2,873.2L748.5,872.0L746.5,869.1L746.3,866.2L743.3,865.0Z" fill="#ec1c24"/>
<path d="M783.0,845.6L685.3,940.3" stroke="#ec1c24" stroke-width="3.5" fill="none"/>
<path d="M676.9,948.5L690.4,945.2L689.8,942.0L686.9,941.2L684.5,938.7L683.8,935.8L680.6,935.1Z" fill="#ec1c24"/>
<path d="M783.0,845.6L773.0,844.4" stroke="#ec1c24" stroke-width="3.5" fill="none"/>
<path d="M761.3,842.9L772.4,851.3L774.5,848.9L773.3,846.2L773.7,842.7L775.5,840.3L774.1,837.4Z" fill="#ec1c24"/>
<path d="M783.0,845.6L781.0,772.6" stroke="#3a85cc" stroke-width="3.5" fill="none"/>
<path d="M780.7,760.8L774.1,773.0L776.8,774.8L779.3,773.2L782.8,773.1L785.4,774.5L788.0,772.6Z" fill="#3a85cc"/>
<path d="M783.0,845.6L787.6,787.2" stroke="#3a85cc" stroke-width="3.5" fill="none"/>
<path d="M788.6,775.5L780.6,786.9L783.2,788.9L785.8,787.6L789.3,787.9L791.8,789.6L794.6,788.0Z" fill="#3a85cc"/>
<path d="M783.0,845.6L696.2,807.5" stroke="#3a85cc" stroke-width="3.5" fill="none"/>
<path d="M685.4,802.7L693.5,814.0L696.3,812.2L695.9,809.3L697.3,806.1L699.7,804.3L699.2,801.1Z" fill="#3a85cc"/>
<path d="M783.0,845.6L838.7,812.2" stroke="#3a85cc" stroke-width="3.5" fill="none"/>
<path d="M848.8,806.1L834.9,806.3L834.8,809.5L837.4,811.0L839.2,814.0L839.2,816.9L842.1,818.3Z" fill="#3a85cc"/>
<path d="M783.0,845.6L758.5,846.5" stroke="#3a85cc" stroke-width="3.5" fill="none"/>
<path d="M746.7,847.0L758.9,853.5L760.6,850.8L759.0,848.3L758.9,844.8L760.3,842.2L758.4,839.5Z" fill="#3a85cc"/>
<path d="M783.0,845.6L851.2,894.6" stroke="#3a85cc" stroke-width="3.5" fill="none"/>
<path d="M860.8,901.5L855.1,888.8L852.1,889.9L851.8,892.9L849.7,895.7L847.0,896.9L846.9,900.2Z" fill="#3a85cc"/>
<path d="M783.0,845.6L918.9,933.2" stroke="#3a85cc" stroke-width="3.5" fill="none"/>
<path d="M928.9,939.6L922.6,927.2L919.6,928.5L919.5,931.5L917.6,934.4L914.9,935.8L915.0,939.0Z" fill="#3a85cc"/>
<path d="M783.0,845.6L621.0,950.6" stroke="#3a85cc" stroke-width="3.5" fill="none"/>
<path d="M611.1,957.0L625.0,956.3L625.1,953.1L622.4,951.8L620.5,948.8L620.4,945.9L617.4,944.6Z" fill="#3a85cc"/>
<path d="M783.0,845.6L783.3,841.6" stroke="#3a85cc" stroke-width="3.5" fill="none"/>
<path d="M784.1,830.0L776.4,841.4L778.9,843.3L781.5,842.0L785.0,842.3L787.4,843.9L790.2,842.3Z" fill="#3a85cc"/>
<path d="M783.0,845.6L788.9,848.5" stroke="#3a85cc" stroke-width="3.5" fill="none"/>
<path d="M799.5,853.8L791.8,842.2L789.0,843.8L789.2,846.7L787.7,849.9L785.2,851.5L785.6,854.7Z" fill="#3a85cc"/>
<rect x="577.4" y="613.7" width="385.5" height="379.7" fill="none" stroke="#000" stroke-width="2.2"/>
<line x1="577.4" y1="993.4" x2="577.4" y2="997.5" stroke="#000" stroke-width="1.7"/>
<text x="577.4" y="1009.8" font-size="15.2" text-anchor="middle">-160</text>
<line x1="603.1" y1="993.4" x2="603.1" y2="997.5" stroke="#000" stroke-width="1.7"/>
<text x="603.1" y="1009.8" font-size="15.2" text-anchor="middle">-140</text>
<line x1="628.8" y1="993.4" x2="628.8" y2="997.5" stroke="#000" stroke-width="1.7"/>
<text x="628.8" y="1009.8" font-size="15.2" text-anchor="middle">-120</text>
<line x1="654.5" y1="993.4" x2="654.5" y2="997.5" stroke="#000" stroke-width="1.7"/>
<text x="654.5" y="1009.8" font-size="15.2" text-anchor="middle">-100</text>
<line x1="680.2" y1="993.4" x2="680.2" y2="997.5" stroke="#000" stroke-width="1.7"/>
<text x="680.2" y="1009.8" font-size="15.2" text-anchor="middle">-80</text>
<line x1="705.9" y1="993.4" x2="705.9" y2="997.5" stroke="#000" stroke-width="1.7"/>
<text x="705.9" y="1009.8" font-size="15.2" text-anchor="middle">-60</text>
<line x1="731.6" y1="993.4" x2="731.6" y2="997.5" stroke="#000" stroke-width="1.7"/>
<text x="731.6" y="1009.8" font-size="15.2" text-anchor="middle">-40</text>
<line x1="757.3" y1="993.4" x2="757.3" y2="997.5" stroke="#000" stroke-width="1.7"/>
<text x="757.3" y="1009.8" font-size="15.2" text-anchor="middle">-20</text>
<line x1="783.0" y1="993.4" x2="783.0" y2="997.5" stroke="#000" stroke-width="1.7"/>
<text x="783.0" y="1009.8" font-size="15.2" text-anchor="middle">0</text>
<line x1="808.7" y1="993.4" x2="808.7" y2="997.5" stroke="#000" stroke-width="1.7"/>
<text x="808.7" y="1009.8" font-size="15.2" text-anchor="middle">20</text>
<line x1="834.4" y1="993.4" x2="834.4" y2="997.5" stroke="#000" stroke-width="1.7"/>
<text x="834.4" y="1009.8" font-size="15.2" text-anchor="middle">40</text>
<line x1="860.1" y1="993.4" x2="860.1" y2="997.5" stroke="#000" stroke-width="1.7"/>
<text x="860.1" y="1009.8" font-size="15.2" text-anchor="middle">60</text>
<line x1="885.8" y1="993.4" x2="885.8" y2="997.5" stroke="#000" stroke-width="1.7"/>
<text x="885.8" y="1009.8" font-size="15.2" text-anchor="middle">80</text>
<line x1="911.5" y1="993.4" x2="911.5" y2="997.5" stroke="#000" stroke-width="1.7"/>
<text x="911.5" y="1009.8" font-size="15.2" text-anchor="middle">100</text>
<line x1="937.2" y1="993.4" x2="937.2" y2="997.5" stroke="#000" stroke-width="1.7"/>
<text x="937.2" y="1009.8" font-size="15.2" text-anchor="middle">120</text>
<line x1="962.9" y1="993.4" x2="962.9" y2="997.5" stroke="#000" stroke-width="1.7"/>
<text x="962.9" y="1009.8" font-size="15.2" text-anchor="middle">140</text>
<line x1="572.4" y1="978.1" x2="577.4" y2="978.1" stroke="#000" stroke-width="1.7"/>
<text x="570.0" y="983.3" font-size="15.2" text-anchor="end">-80</text>
<line x1="572.4" y1="945.0" x2="577.4" y2="945.0" stroke="#000" stroke-width="1.7"/>
<text x="570.0" y="950.1" font-size="15.2" text-anchor="end">-60</text>
<line x1="572.4" y1="911.9" x2="577.4" y2="911.9" stroke="#000" stroke-width="1.7"/>
<text x="570.0" y="917.0" font-size="15.2" text-anchor="end">-40</text>
<line x1="572.4" y1="878.7" x2="577.4" y2="878.7" stroke="#000" stroke-width="1.7"/>
<text x="570.0" y="883.9" font-size="15.2" text-anchor="end">-20</text>
<line x1="572.4" y1="845.6" x2="577.4" y2="845.6" stroke="#000" stroke-width="1.7"/>
<text x="570.0" y="850.8" font-size="15.2" text-anchor="end">0</text>
<line x1="572.4" y1="812.5" x2="577.4" y2="812.5" stroke="#000" stroke-width="1.7"/>
<text x="570.0" y="817.6" font-size="15.2" text-anchor="end">20</text>
<line x1="572.4" y1="779.4" x2="577.4" y2="779.4" stroke="#000" stroke-width="1.7"/>
<text x="570.0" y="784.5" font-size="15.2" text-anchor="end">40</text>
<line x1="572.4" y1="746.2" x2="577.4" y2="746.2" stroke="#000" stroke-width="1.7"/>
<text x="570.0" y="751.4" font-size="15.2" text-anchor="end">60</text>
<line x1="572.4" y1="713.1" x2="577.4" y2="713.1" stroke="#000" stroke-width="1.7"/>
<text x="570.0" y="718.3" font-size="15.2" text-anchor="end">80</text>
<line x1="572.4" y1="680.0" x2="577.4" y2="680.0" stroke="#000" stroke-width="1.7"/>
<text x="570.0" y="685.1" font-size="15.2" text-anchor="end">100</text>
<line x1="572.4" y1="646.9" x2="577.4" y2="646.9" stroke="#000" stroke-width="1.7"/>
<text x="570.0" y="652.0" font-size="15.2" text-anchor="end">120</text>
<line x1="572.4" y1="613.7" x2="577.4" y2="613.7" stroke="#000" stroke-width="1.7"/>
<text x="570.0" y="618.9" font-size="15.2" text-anchor="end">140</text>
<text x="782.4" y="1030.9" font-size="18.60" text-anchor="middle">RDA1(40.13%)</text>
<text transform="translate(543.6,795.9) rotate(-90)" x="0" y="0" font-size="18.60" text-anchor="middle">RDA2(13.38%)</text>
<circle cx="973.8" cy="620.5" r="7.3" fill="#f7dfa0"/>
<text x="983.6" y="626.7" font-size="18.00">EE</text>
<circle cx="973.8" cy="651.2" r="7.3" fill="#2e94d9"/>
<text x="983.6" y="657.3" font-size="18.00">SE</text>
<circle cx="973.8" cy="681.8" r="7.3" fill="#a2d5ad"/>
<text x="983.6" y="688.0" font-size="18.00">ME</text>
<circle cx="973.8" cy="713.2" r="7.3" fill="#2580bf"/>
<text x="983.6" y="719.3" font-size="18.00">UE</text></g>
<g><line x1="1083.1" y1="779.4" x2="1470.6" y2="779.4" stroke="#7b7b7b" stroke-width="3.6" stroke-dasharray="5.8,6.0"/>
<line x1="1276.9" y1="616.1" x2="1276.9" y2="990.7" stroke="#7b7b7b" stroke-width="3.6" stroke-dasharray="5.8,6.0"/>
<circle cx="1238.1" cy="635.9" r="4.2" fill="#f7dfa0"/>
<circle cx="1265.3" cy="808.9" r="4.2" fill="#f7dfa0"/>
<circle cx="1257.5" cy="699.5" r="4.2" fill="#2e94d9"/>
<circle cx="1254.4" cy="869.1" r="4.2" fill="#2e94d9"/>
<circle cx="1252.7" cy="759.1" r="4.2" fill="#a2d5ad"/>
<circle cx="1261.9" cy="822.5" r="4.2" fill="#a2d5ad"/>
<circle cx="1277.9" cy="858.2" r="4.2" fill="#a2d5ad"/>
<circle cx="1373.2" cy="711.8" r="4.2" fill="#2580bf"/>
<circle cx="1323.5" cy="817.0" r="4.2" fill="#2580bf"/>
<circle cx="1297.3" cy="828.3" r="4.2" fill="#2580bf"/>
<text x="1141.0" y="639.8" font-size="15.90">Scopulibacillus</text>
<text x="1275.5" y="647.3" font-size="15.90">Reducing sugar</text>
<text x="1111.4" y="674.5" font-size="15.90">liquefaction power</text>
<text x="1092.3" y="718.1" font-size="15.90">Thermoactinomyces</text>
<text x="1380.1" y="720.8" font-size="15.90">Virgibacillus</text>
<text x="1285.0" y="739.2" font-size="15.90">Saccharification power</text>
<text x="1272.8" y="749.4" font-size="15.90">Starch</text>
<text x="1382.8" y="756.2" font-size="15.90">Moisture</text>
<text x="1236.3" y="767.5" font-size="15.90">Weissella</text>
<text x="1314.7" y="772.6" font-size="15.90">Companilactobacillus</text>
<text x="1150.2" y="781.1" font-size="15.90">Temperature</text>
<text x="1386.9" y="783.5" font-size="15.90">Acidity</text>
<text x="1278.9" y="793.0" font-size="15.90">unclassified_c__Bacilli</text>
<text x="1167.2" y="801.5" font-size="15.90">unclassified_f__Bacillaceae</text>
<text x="1348.0" y="809.4" font-size="15.90">Kroppenstedtia</text>
<text x="1104.2" y="839.0" font-size="15.90">Esterification power</text>
<text x="1261.9" y="877.5" font-size="15.90">Saccharopolyspora</text>
<text x="1121.2" y="884.3" font-size="15.90">Fermentation power</text>
<text x="1238.7" y="967.7" font-size="15.90">Bacillus</text>
<path d="M1276.9,779.4L1266.2,642.5" stroke="#ec1c24" stroke-width="3.5" fill="none"/>
<path d="M1265.3,630.8L1259.2,643.3L1262.1,644.8L1264.5,643.2L1268.0,642.9L1270.7,644.2L1273.2,642.2Z" fill="#ec1c24"/>
<path d="M1276.9,779.4L1207.5,682.9" stroke="#ec1c24" stroke-width="3.5" fill="none"/>
<path d="M1200.6,673.3L1201.9,687.2L1205.2,687.0L1206.4,684.3L1209.2,682.3L1212.1,682.0L1213.3,679.0Z" fill="#ec1c24"/>
<path d="M1276.9,779.4L1306.3,749.8" stroke="#ec1c24" stroke-width="3.5" fill="none"/>
<path d="M1314.7,741.4L1301.2,745.0L1301.9,748.2L1304.8,748.9L1307.2,751.4L1308.0,754.2L1311.2,754.9Z" fill="#ec1c24"/>
<path d="M1276.9,779.4L1333.3,747.9" stroke="#ec1c24" stroke-width="3.5" fill="none"/>
<path d="M1343.6,742.1L1329.7,741.9L1329.5,745.1L1332.0,746.6L1333.7,749.6L1333.7,752.6L1336.6,754.1Z" fill="#ec1c24"/>
<path d="M1276.9,779.4L1361.2,755.5" stroke="#ec1c24" stroke-width="3.5" fill="none"/>
<path d="M1372.6,752.3L1359.1,748.9L1358.1,751.9L1360.3,754.0L1361.2,757.4L1360.5,760.2L1362.9,762.3Z" fill="#ec1c24"/>
<path d="M1276.9,779.4L1365.2,773.8" stroke="#ec1c24" stroke-width="3.5" fill="none"/>
<path d="M1377.0,773.1L1364.6,766.9L1362.9,769.7L1364.6,772.1L1364.8,775.6L1363.5,778.3L1365.5,780.8Z" fill="#ec1c24"/>
<path d="M1276.9,779.4L1230.8,768.1" stroke="#ec1c24" stroke-width="3.5" fill="none"/>
<path d="M1219.3,765.3L1229.3,774.9L1231.7,772.7L1230.8,769.9L1231.7,766.5L1233.7,764.4L1232.6,761.3Z" fill="#ec1c24"/>
<path d="M1276.9,779.4L1225.3,819.3" stroke="#ec1c24" stroke-width="3.5" fill="none"/>
<path d="M1215.9,826.6L1229.7,824.8L1229.5,821.5L1226.7,820.4L1224.6,817.7L1224.2,814.7L1221.1,813.7Z" fill="#ec1c24"/>
<path d="M1276.9,779.4L1233.5,858.8" stroke="#ec1c24" stroke-width="3.5" fill="none"/>
<path d="M1227.8,869.1L1239.7,862.0L1238.2,859.1L1235.3,859.2L1232.2,857.5L1230.7,855.0L1227.4,855.2Z" fill="#ec1c24"/>
<path d="M1276.9,779.4L1222.2,649.5" stroke="#3a85cc" stroke-width="3.5" fill="none"/>
<path d="M1217.6,638.6L1215.8,652.4L1219.0,653.0L1220.8,650.6L1224.0,649.2L1226.9,649.6L1228.7,646.9Z" fill="#3a85cc"/>
<path d="M1276.9,779.4L1135.6,723.6" stroke="#3a85cc" stroke-width="3.5" fill="none"/>
<path d="M1124.7,719.3L1133.2,730.2L1135.9,728.4L1135.5,725.4L1136.7,722.2L1139.1,720.4L1138.4,717.2Z" fill="#3a85cc"/>
<path d="M1276.9,779.4L1412.6,728.5" stroke="#3a85cc" stroke-width="3.5" fill="none"/>
<path d="M1423.6,724.4L1410.0,722.1L1409.2,725.2L1411.5,727.1L1412.7,730.4L1412.2,733.3L1414.9,735.2Z" fill="#3a85cc"/>
<path d="M1276.9,779.4L1299.9,773.4" stroke="#3a85cc" stroke-width="3.5" fill="none"/>
<path d="M1311.3,770.4L1297.9,766.7L1296.8,769.7L1298.9,771.8L1299.8,775.2L1299.0,778.0L1301.4,780.2Z" fill="#3a85cc"/>
<path d="M1276.9,779.4L1342.1,786.8" stroke="#3a85cc" stroke-width="3.5" fill="none"/>
<path d="M1353.8,788.1L1342.7,779.8L1340.6,782.3L1341.8,785.0L1341.4,788.4L1339.6,790.8L1341.1,793.7Z" fill="#3a85cc"/>
<path d="M1276.9,779.4L1258.6,852.6" stroke="#3a85cc" stroke-width="3.5" fill="none"/>
<path d="M1255.8,864.0L1265.5,854.1L1263.3,851.7L1260.4,852.5L1257.0,851.7L1254.9,849.6L1251.9,850.7Z" fill="#3a85cc"/>
<path d="M1276.9,779.4L1237.5,939.4" stroke="#3a85cc" stroke-width="3.5" fill="none"/>
<path d="M1234.6,950.9L1244.3,940.9L1242.1,938.5L1239.3,939.3L1235.9,938.5L1233.8,936.4L1230.7,937.5Z" fill="#3a85cc"/>
<path d="M1276.9,779.4L1263.5,771.4" stroke="#3a85cc" stroke-width="3.5" fill="none"/>
<path d="M1253.4,765.3L1260.0,777.5L1263.0,776.1L1263.0,773.1L1264.8,770.1L1267.4,768.7L1267.3,765.5Z" fill="#3a85cc"/>
<path d="M1276.9,779.4L1272.0,784.2" stroke="#3a85cc" stroke-width="3.5" fill="none"/>
<path d="M1263.6,792.5L1277.1,789.1L1276.4,785.9L1273.6,785.1L1271.1,782.6L1270.4,779.8L1267.2,779.1Z" fill="#3a85cc"/>
<rect x="1083.1" y="616.1" width="387.5" height="374.6" fill="none" stroke="#000" stroke-width="2.2"/>
<line x1="1083.1" y1="990.7" x2="1083.1" y2="994.8" stroke="#000" stroke-width="1.7"/>
<text x="1083.1" y="1011.6" font-size="19.4" text-anchor="middle">-200</text>
<line x1="1131.5" y1="990.7" x2="1131.5" y2="994.8" stroke="#000" stroke-width="1.7"/>
<text x="1131.5" y="1011.6" font-size="19.4" text-anchor="middle">-150</text>
<line x1="1180.0" y1="990.7" x2="1180.0" y2="994.8" stroke="#000" stroke-width="1.7"/>
<text x="1180.0" y="1011.6" font-size="19.4" text-anchor="middle">-100</text>
<line x1="1228.4" y1="990.7" x2="1228.4" y2="994.8" stroke="#000" stroke-width="1.7"/>
<text x="1228.4" y="1011.6" font-size="19.4" text-anchor="middle">-50</text>
<line x1="1276.9" y1="990.7" x2="1276.9" y2="994.8" stroke="#000" stroke-width="1.7"/>
<text x="1276.9" y="1011.6" font-size="19.4" text-anchor="middle">0</text>
<line x1="1325.3" y1="990.7" x2="1325.3" y2="994.8" stroke="#000" stroke-width="1.7"/>
<text x="1325.3" y="1011.6" font-size="19.4" text-anchor="middle">50</text>
<line x1="1373.8" y1="990.7" x2="1373.8" y2="994.8" stroke="#000" stroke-width="1.7"/>
<text x="1373.8" y="1011.6" font-size="19.4" text-anchor="middle">100</text>
<line x1="1422.2" y1="990.7" x2="1422.2" y2="994.8" stroke="#000" stroke-width="1.7"/>
<text x="1422.2" y="1011.6" font-size="19.4" text-anchor="middle">150</text>
<line x1="1470.6" y1="990.7" x2="1470.6" y2="994.8" stroke="#000" stroke-width="1.7"/>
<text x="1470.6" y="1011.6" font-size="19.4" text-anchor="middle">200</text>
<line x1="1078.1" y1="975.4" x2="1083.1" y2="975.4" stroke="#000" stroke-width="1.7"/>
<text x="1075.7" y="982.0" font-size="19.4" text-anchor="end">-120</text>
<line x1="1078.1" y1="942.7" x2="1083.1" y2="942.7" stroke="#000" stroke-width="1.7"/>
<text x="1075.7" y="949.3" font-size="19.4" text-anchor="end">-100</text>
<line x1="1078.1" y1="910.1" x2="1083.1" y2="910.1" stroke="#000" stroke-width="1.7"/>
<text x="1075.7" y="916.7" font-size="19.4" text-anchor="end">-80</text>
<line x1="1078.1" y1="877.4" x2="1083.1" y2="877.4" stroke="#000" stroke-width="1.7"/>
<text x="1075.7" y="884.0" font-size="19.4" text-anchor="end">-60</text>
<line x1="1078.1" y1="844.7" x2="1083.1" y2="844.7" stroke="#000" stroke-width="1.7"/>
<text x="1075.7" y="851.3" font-size="19.4" text-anchor="end">-40</text>
<line x1="1078.1" y1="812.1" x2="1083.1" y2="812.1" stroke="#000" stroke-width="1.7"/>
<text x="1075.7" y="818.7" font-size="19.4" text-anchor="end">-20</text>
<line x1="1078.1" y1="779.4" x2="1083.1" y2="779.4" stroke="#000" stroke-width="1.7"/>
<text x="1075.7" y="786.0" font-size="19.4" text-anchor="end">0</text>
<line x1="1078.1" y1="746.8" x2="1083.1" y2="746.8" stroke="#000" stroke-width="1.7"/>
<text x="1075.7" y="753.4" font-size="19.4" text-anchor="end">20</text>
<line x1="1078.1" y1="714.1" x2="1083.1" y2="714.1" stroke="#000" stroke-width="1.7"/>
<text x="1075.7" y="720.7" font-size="19.4" text-anchor="end">40</text>
<line x1="1078.1" y1="681.4" x2="1083.1" y2="681.4" stroke="#000" stroke-width="1.7"/>
<text x="1075.7" y="688.0" font-size="19.4" text-anchor="end">60</text>
<line x1="1078.1" y1="648.8" x2="1083.1" y2="648.8" stroke="#000" stroke-width="1.7"/>
<text x="1075.7" y="655.4" font-size="19.4" text-anchor="end">80</text>
<line x1="1078.1" y1="616.1" x2="1083.1" y2="616.1" stroke="#000" stroke-width="1.7"/>
<text x="1075.7" y="622.7" font-size="19.4" text-anchor="end">100</text>
<text x="1287.4" y="1030.9" font-size="19.72" text-anchor="middle">RDA1(55.34%)</text>
<text transform="translate(1036.6,795.9) rotate(-90)" x="0" y="0" font-size="19.72" text-anchor="middle">RDA2(22.03%)</text>
<circle cx="1483.2" cy="622.2" r="7.3" fill="#f7dfa0"/>
<text x="1493.0" y="628.4" font-size="19.08">EF</text>
<circle cx="1483.2" cy="653.6" r="7.3" fill="#2e94d9"/>
<text x="1493.0" y="659.7" font-size="19.08">SF</text>
<circle cx="1483.2" cy="684.2" r="7.3" fill="#a2d5ad"/>
<text x="1493.0" y="690.3" font-size="19.08">MF</text>
<circle cx="1483.2" cy="714.2" r="7.3" fill="#2580bf"/>
<text x="1493.0" y="720.3" font-size="19.08">UF</text></g>
<g><line x1="75.6" y1="1348.8" x2="461.4" y2="1348.8" stroke="#7b7b7b" stroke-width="3.6" stroke-dasharray="5.8,6.0"/>
<line x1="224.0" y1="1243.8" x2="224.0" y2="1625.2" stroke="#7b7b7b" stroke-width="3.6" stroke-dasharray="5.8,6.0"/>
<circle cx="187.3" cy="1262.2" r="4.2" fill="#f7dfa0"/>
<circle cx="190.0" cy="1303.7" r="4.2" fill="#f7dfa0"/>
<circle cx="199.2" cy="1362.0" r="4.2" fill="#f7dfa0"/>
<circle cx="224.8" cy="1265.6" r="4.2" fill="#2e94d9"/>
<circle cx="258.1" cy="1304.8" r="4.2" fill="#2e94d9"/>
<circle cx="194.1" cy="1331.3" r="4.2" fill="#2e94d9"/>
<circle cx="194.1" cy="1351.8" r="4.2" fill="#2e94d9"/>
<circle cx="242.8" cy="1348.3" r="4.2" fill="#2e94d9"/>
<circle cx="250.3" cy="1321.1" r="4.2" fill="#a2d5ad"/>
<circle cx="223.1" cy="1372.2" r="4.2" fill="#a2d5ad"/>
<circle cx="311.6" cy="1384.1" r="4.2" fill="#a2d5ad"/>
<circle cx="206.0" cy="1573.1" r="4.2" fill="#2580bf"/>
<text x="175.4" y="1257.9" font-size="15.00">Starch</text>
<text x="88.5" y="1275.6" font-size="15.00">Kazachstania</text>
<text x="224.8" y="1300.2" font-size="15.00">Moisture</text>
<text x="326.2" y="1305.6" font-size="15.00">Wickerhamomyces</text>
<text x="200.2" y="1332.8" font-size="15.00">Aspergillus</text>
<text x="228.8" y="1343.7" font-size="15.00">Blumeria</text>
<text x="109.0" y="1347.8" font-size="15.00">Thermomyces</text>
<text x="244.5" y="1353.3" font-size="15.00">Saccharomyces</text>
<text x="157.3" y="1364.9" font-size="15.00">Alternaria</text>
<text x="247.9" y="1364.9" font-size="15.00">Kodamaea</text>
<text x="84.1" y="1373.4" font-size="15.00">Reducing sugar</text>
<text x="227.1" y="1377.1" font-size="15.00">Temperature</text>
<text x="217.9" y="1396.5" font-size="15.00">Pichia</text>
<text x="210.1" y="1427.2" font-size="15.00">Saccharomycopsis</text>
<text x="142.0" y="1469.1" font-size="15.00">Acidity</text>
<path d="M224.0,1348.8L177.8,1267.7" stroke="#ec1c24" stroke-width="3.5" fill="none"/>
<path d="M172.0,1257.4L171.8,1271.3L175.1,1271.5L176.5,1269.0L179.6,1267.2L182.5,1267.3L184.0,1264.4Z" fill="#ec1c24"/>
<path d="M224.0,1348.8L217.5,1309.9" stroke="#ec1c24" stroke-width="3.5" fill="none"/>
<path d="M215.6,1298.3L210.6,1311.3L213.6,1312.6L215.9,1310.7L219.3,1310.1L222.1,1311.2L224.4,1309.0Z" fill="#ec1c24"/>
<path d="M224.0,1348.8L141.8,1355.9" stroke="#ec1c24" stroke-width="3.5" fill="none"/>
<path d="M130.1,1356.9L142.6,1362.8L144.2,1360.0L142.5,1357.6L142.2,1354.1L143.5,1351.4L141.4,1348.9Z" fill="#ec1c24"/>
<path d="M224.0,1348.8L161.2,1449.0" stroke="#ec1c24" stroke-width="3.5" fill="none"/>
<path d="M154.9,1459.0L167.2,1452.6L165.9,1449.6L163.0,1449.5L160.0,1447.7L158.6,1445.0L155.4,1445.1Z" fill="#ec1c24"/>
<path d="M224.0,1348.8L229.2,1352.9" stroke="#ec1c24" stroke-width="3.5" fill="none"/>
<path d="M238.4,1360.3L233.4,1347.3L230.3,1348.3L229.9,1351.2L227.7,1354.0L224.9,1355.0L224.6,1358.3Z" fill="#ec1c24"/>
<path d="M224.0,1348.8L98.5,1287.8" stroke="#3a85cc" stroke-width="3.5" fill="none"/>
<path d="M87.9,1282.6L95.6,1294.2L98.4,1292.5L98.2,1289.6L99.7,1286.4L102.1,1284.8L101.7,1281.6Z" fill="#3a85cc"/>
<path d="M224.0,1348.8L412.4,1312.4" stroke="#3a85cc" stroke-width="3.5" fill="none"/>
<path d="M424.0,1310.2L410.9,1305.6L409.6,1308.6L411.6,1310.8L412.2,1314.3L411.2,1317.0L413.5,1319.4Z" fill="#3a85cc"/>
<path d="M224.0,1348.8L201.3,1337.6" stroke="#3a85cc" stroke-width="3.5" fill="none"/>
<path d="M190.7,1332.3L198.4,1343.9L201.2,1342.3L201.0,1339.4L202.5,1336.2L205.0,1334.6L204.6,1331.4Z" fill="#3a85cc"/>
<path d="M224.0,1348.8L205.6,1344.8" stroke="#3a85cc" stroke-width="3.5" fill="none"/>
<path d="M194.1,1342.2L204.3,1351.6L206.7,1349.4L205.7,1346.6L206.5,1343.2L208.5,1341.0L207.3,1338.0Z" fill="#3a85cc"/>
<path d="M224.0,1348.8L216.6,1371.2" stroke="#3a85cc" stroke-width="3.5" fill="none"/>
<path d="M212.8,1382.4L223.3,1373.2L221.3,1370.7L218.4,1371.3L215.0,1370.2L213.1,1368.0L210.0,1368.8Z" fill="#3a85cc"/>
<path d="M224.0,1348.8L207.2,1401.8" stroke="#3a85cc" stroke-width="3.5" fill="none"/>
<path d="M203.6,1413.1L213.9,1403.7L211.9,1401.2L209.0,1401.9L205.7,1400.8L203.7,1398.6L200.6,1399.5Z" fill="#3a85cc"/>
<path d="M224.0,1348.8L230.0,1349.0" stroke="#3a85cc" stroke-width="3.5" fill="none"/>
<path d="M241.8,1349.4L230.0,1342.0L228.1,1344.6L229.5,1347.2L229.4,1350.7L227.8,1353.2L229.6,1356.0Z" fill="#3a85cc"/>
<path d="M224.0,1348.8L222.4,1346.4" stroke="#3a85cc" stroke-width="3.5" fill="none"/>
<path d="M217.9,1339.8L218.6,1349.3L220.8,1349.3L221.2,1347.8L224.1,1345.8L225.7,1346.0L226.5,1344.0Z" fill="#3a85cc"/>
<path d="M224.0,1348.8L220.7,1350.0" stroke="#3a85cc" stroke-width="3.5" fill="none"/>
<path d="M211.1,1353.5L223.0,1355.6L223.6,1352.9L221.7,1351.5L220.5,1348.2L221.1,1345.9L218.8,1344.2Z" fill="#3a85cc"/>
<rect x="75.6" y="1243.8" width="385.8" height="381.4" fill="none" stroke="#000" stroke-width="2.2"/>
<line x1="75.6" y1="1625.2" x2="75.6" y2="1629.3" stroke="#000" stroke-width="1.7"/>
<text x="75.6" y="1640.9" font-size="14.6" text-anchor="middle">-250</text>
<line x1="105.3" y1="1625.2" x2="105.3" y2="1629.3" stroke="#000" stroke-width="1.7"/>
<text x="105.3" y="1640.9" font-size="14.6" text-anchor="middle">-200</text>
<line x1="135.0" y1="1625.2" x2="135.0" y2="1629.3" stroke="#000" stroke-width="1.7"/>
<text x="135.0" y="1640.9" font-size="14.6" text-anchor="middle">-150</text>
<line x1="164.6" y1="1625.2" x2="164.6" y2="1629.3" stroke="#000" stroke-width="1.7"/>
<text x="164.6" y="1640.9" font-size="14.6" text-anchor="middle">-100</text>
<line x1="194.3" y1="1625.2" x2="194.3" y2="1629.3" stroke="#000" stroke-width="1.7"/>
<text x="194.3" y="1640.9" font-size="14.6" text-anchor="middle">-50</text>
<line x1="224.0" y1="1625.2" x2="224.0" y2="1629.3" stroke="#000" stroke-width="1.7"/>
<text x="224.0" y="1640.9" font-size="14.6" text-anchor="middle">0</text>
<line x1="253.7" y1="1625.2" x2="253.7" y2="1629.3" stroke="#000" stroke-width="1.7"/>
<text x="253.7" y="1640.9" font-size="14.6" text-anchor="middle">50</text>
<line x1="283.4" y1="1625.2" x2="283.4" y2="1629.3" stroke="#000" stroke-width="1.7"/>
<text x="283.4" y="1640.9" font-size="14.6" text-anchor="middle">100</text>
<line x1="313.0" y1="1625.2" x2="313.0" y2="1629.3" stroke="#000" stroke-width="1.7"/>
<text x="313.0" y="1640.9" font-size="14.6" text-anchor="middle">150</text>
<line x1="342.7" y1="1625.2" x2="342.7" y2="1629.3" stroke="#000" stroke-width="1.7"/>
<text x="342.7" y="1640.9" font-size="14.6" text-anchor="middle">200</text>
<line x1="372.4" y1="1625.2" x2="372.4" y2="1629.3" stroke="#000" stroke-width="1.7"/>
<text x="372.4" y="1640.9" font-size="14.6" text-anchor="middle">250</text>
<line x1="402.1" y1="1625.2" x2="402.1" y2="1629.3" stroke="#000" stroke-width="1.7"/>
<text x="402.1" y="1640.9" font-size="14.6" text-anchor="middle">300</text>
<line x1="431.7" y1="1625.2" x2="431.7" y2="1629.3" stroke="#000" stroke-width="1.7"/>
<text x="431.7" y="1640.9" font-size="14.6" text-anchor="middle">350</text>
<line x1="461.4" y1="1625.2" x2="461.4" y2="1629.3" stroke="#000" stroke-width="1.7"/>
<text x="461.4" y="1640.9" font-size="14.6" text-anchor="middle">400</text>
<line x1="70.6" y1="1611.2" x2="75.6" y2="1611.2" stroke="#000" stroke-width="1.7"/>
<text x="68.2" y="1616.2" font-size="14.6" text-anchor="end">-250</text>
<line x1="70.6" y1="1558.8" x2="75.6" y2="1558.8" stroke="#000" stroke-width="1.7"/>
<text x="68.2" y="1563.7" font-size="14.6" text-anchor="end">-200</text>
<line x1="70.6" y1="1506.3" x2="75.6" y2="1506.3" stroke="#000" stroke-width="1.7"/>
<text x="68.2" y="1511.2" font-size="14.6" text-anchor="end">-150</text>
<line x1="70.6" y1="1453.8" x2="75.6" y2="1453.8" stroke="#000" stroke-width="1.7"/>
<text x="68.2" y="1458.7" font-size="14.6" text-anchor="end">-100</text>
<line x1="70.6" y1="1401.3" x2="75.6" y2="1401.3" stroke="#000" stroke-width="1.7"/>
<text x="68.2" y="1406.2" font-size="14.6" text-anchor="end">-50</text>
<line x1="70.6" y1="1348.8" x2="75.6" y2="1348.8" stroke="#000" stroke-width="1.7"/>
<text x="68.2" y="1353.8" font-size="14.6" text-anchor="end">0</text>
<line x1="70.6" y1="1296.3" x2="75.6" y2="1296.3" stroke="#000" stroke-width="1.7"/>
<text x="68.2" y="1301.3" font-size="14.6" text-anchor="end">50</text>
<line x1="70.6" y1="1243.8" x2="75.6" y2="1243.8" stroke="#000" stroke-width="1.7"/>
<text x="68.2" y="1248.8" font-size="14.6" text-anchor="end">100</text>
<text x="261.9" y="1662.0" font-size="18.60" text-anchor="middle">RDA1(70.42%)</text>
<text transform="translate(32.9,1428.4) rotate(-90)" x="0" y="0" font-size="18.60" text-anchor="middle">RDA2(4.14%)</text>
<circle cx="472.7" cy="1250.6" r="7.3" fill="#f7dfa0"/>
<text x="482.5" y="1256.7" font-size="18.00">EA</text>
<circle cx="472.7" cy="1281.3" r="7.3" fill="#2e94d9"/>
<text x="482.5" y="1287.4" font-size="18.00">SA</text>
<circle cx="472.7" cy="1311.6" r="7.3" fill="#a2d5ad"/>
<text x="482.5" y="1317.7" font-size="18.00">MA</text>
<circle cx="472.7" cy="1341.5" r="7.3" fill="#2580bf"/>
<text x="482.5" y="1347.7" font-size="18.00">UA</text></g>
<g><line x1="576.4" y1="1366.7" x2="965.3" y2="1366.7" stroke="#7b7b7b" stroke-width="3.6" stroke-dasharray="5.8,6.0"/>
<line x1="819.5" y1="1243.5" x2="819.5" y2="1626.9" stroke="#7b7b7b" stroke-width="3.6" stroke-dasharray="5.8,6.0"/>
<circle cx="739.9" cy="1272.8" r="4.2" fill="#f7dfa0"/>
<circle cx="772.2" cy="1403.5" r="4.2" fill="#f7dfa0"/>
<circle cx="783.1" cy="1409.0" r="4.2" fill="#f7dfa0"/>
<circle cx="826.4" cy="1281.3" r="4.2" fill="#2e94d9"/>
<circle cx="798.1" cy="1293.9" r="4.2" fill="#2e94d9"/>
<circle cx="800.1" cy="1277.9" r="4.2" fill="#a2d5ad"/>
<circle cx="915.9" cy="1335.4" r="4.2" fill="#a2d5ad"/>
<circle cx="922.0" cy="1339.8" r="4.2" fill="#a2d5ad"/>
<circle cx="745.3" cy="1383.4" r="4.2" fill="#2580bf"/>
<circle cx="798.1" cy="1453.2" r="4.2" fill="#2580bf"/>
<circle cx="849.5" cy="1591.2" r="4.2" fill="#2580bf"/>
<text x="818.2" y="1296.1" font-size="15.00">Wickerhamomyces</text>
<text x="743.3" y="1308.0" font-size="15.00">Starch</text>
<text x="635.0" y="1315.5" font-size="15.00">Reducing sugar</text>
<text x="597.5" y="1332.8" font-size="15.00">Pichia</text>
<text x="772.6" y="1337.6" font-size="15.00">Rhizomucor</text>
<text x="823.6" y="1352.3" font-size="15.00">Candida</text>
<text x="883.6" y="1351.2" font-size="15.00">Kodamaea</text>
<text x="686.4" y="1354.0" font-size="15.00">Temperature</text>
<text x="747.4" y="1364.2" font-size="15.00">Dipodascaceae_gen_Incertae_sedis</text>
<text x="624.8" y="1375.4" font-size="15.00">unclassified_f__Dipodascaceae</text>
<text x="749.4" y="1385.3" font-size="15.00">Aspergillus</text>
<text x="838.6" y="1401.6" font-size="15.00">Kazachstania</text>
<text x="681.3" y="1453.7" font-size="15.00">Moisture</text>
<text x="695.6" y="1511.3" font-size="15.00">Saccharomycopsis</text>
<text x="849.5" y="1506.5" font-size="15.00">Acidity</text>
<path d="M819.5,1366.7L744.4,1314.2" stroke="#ec1c24" stroke-width="3.5" fill="none"/>
<path d="M734.8,1307.5L740.6,1320.1L743.6,1318.9L743.8,1316.0L745.8,1313.1L748.5,1311.9L748.6,1308.6Z" fill="#ec1c24"/>
<path d="M819.5,1366.7L722.4,1324.1" stroke="#ec1c24" stroke-width="3.5" fill="none"/>
<path d="M711.6,1319.4L719.8,1330.6L722.5,1328.9L722.2,1325.9L723.6,1322.7L726.0,1321.0L725.4,1317.8Z" fill="#ec1c24"/>
<path d="M819.5,1366.7L759.4,1343.1" stroke="#ec1c24" stroke-width="3.5" fill="none"/>
<path d="M748.4,1338.8L757.0,1349.7L759.6,1347.9L759.2,1344.9L760.5,1341.7L762.8,1339.9L762.1,1336.7Z" fill="#ec1c24"/>
<path d="M819.5,1366.7L771.2,1346.2" stroke="#ec1c24" stroke-width="3.5" fill="none"/>
<path d="M760.3,1341.5L768.6,1352.7L771.3,1350.9L770.9,1348.0L772.3,1344.7L774.7,1343.0L774.1,1339.8Z" fill="#ec1c24"/>
<path d="M819.5,1366.7L745.9,1439.5" stroke="#ec1c24" stroke-width="3.5" fill="none"/>
<path d="M737.5,1447.8L750.9,1444.3L750.3,1441.1L747.5,1440.4L745.0,1437.9L744.3,1435.0L741.1,1434.4Z" fill="#ec1c24"/>
<path d="M819.5,1366.7L843.3,1495.1" stroke="#ec1c24" stroke-width="3.5" fill="none"/>
<path d="M845.4,1506.7L850.1,1493.6L847.1,1492.3L844.9,1494.3L841.5,1494.9L838.7,1493.9L836.4,1496.2Z" fill="#ec1c24"/>
<path d="M819.5,1366.7L623.6,1319.4" stroke="#3a85cc" stroke-width="3.5" fill="none"/>
<path d="M612.2,1316.7L622.2,1326.3L624.6,1324.1L623.7,1321.3L624.5,1317.9L626.6,1315.7L625.5,1312.7Z" fill="#3a85cc"/>
<path d="M819.5,1366.7L931.6,1301.5" stroke="#3a85cc" stroke-width="3.5" fill="none"/>
<path d="M941.8,1295.6L927.9,1295.6L927.7,1298.8L930.3,1300.2L932.0,1303.3L932.0,1306.2L934.9,1307.7Z" fill="#3a85cc"/>
<path d="M819.5,1366.7L874.1,1355.2" stroke="#3a85cc" stroke-width="3.5" fill="none"/>
<path d="M885.6,1352.8L872.4,1348.4L871.2,1351.4L873.2,1353.6L873.9,1357.0L873.0,1359.8L875.3,1362.1Z" fill="#3a85cc"/>
<path d="M819.5,1366.7L827.2,1385.2" stroke="#3a85cc" stroke-width="3.5" fill="none"/>
<path d="M831.8,1396.0L833.6,1382.2L830.4,1381.6L828.6,1384.0L825.4,1385.4L822.5,1385.0L820.7,1387.7Z" fill="#3a85cc"/>
<path d="M819.5,1366.7L810.5,1491.5" stroke="#3a85cc" stroke-width="3.5" fill="none"/>
<path d="M809.7,1503.3L817.5,1491.8L814.9,1489.8L812.3,1491.2L808.8,1490.9L806.4,1489.2L803.5,1490.8Z" fill="#3a85cc"/>
<path d="M819.5,1366.7L818.7,1351.6" stroke="#3a85cc" stroke-width="3.5" fill="none"/>
<path d="M818.2,1339.8L811.8,1352.2L814.5,1353.8L817.0,1352.2L820.5,1352.0L823.1,1353.4L825.7,1351.5Z" fill="#3a85cc"/>
<path d="M819.5,1366.7L822.3,1365.5" stroke="#3a85cc" stroke-width="3.5" fill="none"/>
<path d="M830.1,1362.0L819.9,1360.9L819.5,1363.2L821.1,1364.1L822.5,1367.3L822.1,1369.0L824.1,1370.3Z" fill="#3a85cc"/>
<path d="M819.5,1366.7L814.4,1367.9" stroke="#3a85cc" stroke-width="3.5" fill="none"/>
<path d="M802.9,1370.5L816.1,1374.7L817.3,1371.6L815.2,1369.5L814.5,1366.1L815.4,1363.3L813.0,1361.0Z" fill="#3a85cc"/>
<rect x="576.4" y="1243.5" width="388.9" height="383.4" fill="none" stroke="#000" stroke-width="2.2"/>
<line x1="576.4" y1="1626.9" x2="576.4" y2="1631.0" stroke="#000" stroke-width="1.7"/>
<text x="576.4" y="1643.0" font-size="14.9" text-anchor="middle">-250</text>
<line x1="625.0" y1="1626.9" x2="625.0" y2="1631.0" stroke="#000" stroke-width="1.7"/>
<text x="625.0" y="1643.0" font-size="14.9" text-anchor="middle">-200</text>
<line x1="673.6" y1="1626.9" x2="673.6" y2="1631.0" stroke="#000" stroke-width="1.7"/>
<text x="673.6" y="1643.0" font-size="14.9" text-anchor="middle">-150</text>
<line x1="722.2" y1="1626.9" x2="722.2" y2="1631.0" stroke="#000" stroke-width="1.7"/>
<text x="722.2" y="1643.0" font-size="14.9" text-anchor="middle">-100</text>
<line x1="770.9" y1="1626.9" x2="770.9" y2="1631.0" stroke="#000" stroke-width="1.7"/>
<text x="770.9" y="1643.0" font-size="14.9" text-anchor="middle">-50</text>
<line x1="819.5" y1="1626.9" x2="819.5" y2="1631.0" stroke="#000" stroke-width="1.7"/>
<text x="819.5" y="1643.0" font-size="14.9" text-anchor="middle">0</text>
<line x1="868.1" y1="1626.9" x2="868.1" y2="1631.0" stroke="#000" stroke-width="1.7"/>
<text x="868.1" y="1643.0" font-size="14.9" text-anchor="middle">50</text>
<line x1="916.7" y1="1626.9" x2="916.7" y2="1631.0" stroke="#000" stroke-width="1.7"/>
<text x="916.7" y="1643.0" font-size="14.9" text-anchor="middle">100</text>
<line x1="965.3" y1="1626.9" x2="965.3" y2="1631.0" stroke="#000" stroke-width="1.7"/>
<text x="965.3" y="1643.0" font-size="14.9" text-anchor="middle">150</text>
<line x1="571.4" y1="1613.3" x2="576.4" y2="1613.3" stroke="#000" stroke-width="1.7"/>
<text x="569.0" y="1618.4" font-size="14.9" text-anchor="end">-200</text>
<line x1="571.4" y1="1588.6" x2="576.4" y2="1588.6" stroke="#000" stroke-width="1.7"/>
<text x="569.0" y="1593.7" font-size="14.9" text-anchor="end">-180</text>
<line x1="571.4" y1="1564.0" x2="576.4" y2="1564.0" stroke="#000" stroke-width="1.7"/>
<text x="569.0" y="1569.0" font-size="14.9" text-anchor="end">-160</text>
<line x1="571.4" y1="1539.3" x2="576.4" y2="1539.3" stroke="#000" stroke-width="1.7"/>
<text x="569.0" y="1544.4" font-size="14.9" text-anchor="end">-140</text>
<line x1="571.4" y1="1514.7" x2="576.4" y2="1514.7" stroke="#000" stroke-width="1.7"/>
<text x="569.0" y="1519.7" font-size="14.9" text-anchor="end">-120</text>
<line x1="571.4" y1="1490.0" x2="576.4" y2="1490.0" stroke="#000" stroke-width="1.7"/>
<text x="569.0" y="1495.1" font-size="14.9" text-anchor="end">-100</text>
<line x1="571.4" y1="1465.4" x2="576.4" y2="1465.4" stroke="#000" stroke-width="1.7"/>
<text x="569.0" y="1470.4" font-size="14.9" text-anchor="end">-80</text>
<line x1="571.4" y1="1440.7" x2="576.4" y2="1440.7" stroke="#000" stroke-width="1.7"/>
<text x="569.0" y="1445.8" font-size="14.9" text-anchor="end">-60</text>
<line x1="571.4" y1="1416.0" x2="576.4" y2="1416.0" stroke="#000" stroke-width="1.7"/>
<text x="569.0" y="1421.1" font-size="14.9" text-anchor="end">-40</text>
<line x1="571.4" y1="1391.4" x2="576.4" y2="1391.4" stroke="#000" stroke-width="1.7"/>
<text x="569.0" y="1396.5" font-size="14.9" text-anchor="end">-20</text>
<line x1="571.4" y1="1366.7" x2="576.4" y2="1366.7" stroke="#000" stroke-width="1.7"/>
<text x="569.0" y="1371.8" font-size="14.9" text-anchor="end">0</text>
<line x1="571.4" y1="1342.1" x2="576.4" y2="1342.1" stroke="#000" stroke-width="1.7"/>
<text x="569.0" y="1347.1" font-size="14.9" text-anchor="end">20</text>
<line x1="571.4" y1="1317.4" x2="576.4" y2="1317.4" stroke="#000" stroke-width="1.7"/>
<text x="569.0" y="1322.5" font-size="14.9" text-anchor="end">40</text>
<line x1="571.4" y1="1292.8" x2="576.4" y2="1292.8" stroke="#000" stroke-width="1.7"/>
<text x="569.0" y="1297.8" font-size="14.9" text-anchor="end">60</text>
<line x1="571.4" y1="1268.1" x2="576.4" y2="1268.1" stroke="#000" stroke-width="1.7"/>
<text x="569.0" y="1273.2" font-size="14.9" text-anchor="end">80</text>
<line x1="571.4" y1="1243.5" x2="576.4" y2="1243.5" stroke="#000" stroke-width="1.7"/>
<text x="569.0" y="1248.5" font-size="14.9" text-anchor="end">100</text>
<text x="775.6" y="1661.6" font-size="18.60" text-anchor="middle">RDA1(39.38%)</text>
<text transform="translate(535.1,1428.4) rotate(-90)" x="0" y="0" font-size="18.60" text-anchor="middle">RDA2(10.93%)</text>
<circle cx="977.6" cy="1250.6" r="7.3" fill="#f7dfa0"/>
<text x="987.4" y="1256.7" font-size="18.00">EB</text>
<circle cx="977.6" cy="1280.2" r="7.3" fill="#2e94d9"/>
<text x="987.4" y="1286.4" font-size="18.00">SB</text>
<circle cx="977.6" cy="1309.2" r="7.3" fill="#a2d5ad"/>
<text x="987.4" y="1315.3" font-size="18.00">MB</text>
<circle cx="977.6" cy="1338.8" r="7.3" fill="#2580bf"/>
<text x="987.4" y="1344.9" font-size="18.00">UB</text></g>
<g><line x1="1083.1" y1="1423.9" x2="1470.3" y2="1423.9" stroke="#7b7b7b" stroke-width="3.6" stroke-dasharray="5.8,6.0"/>
<line x1="1249.0" y1="1240.1" x2="1249.0" y2="1623.2" stroke="#7b7b7b" stroke-width="3.6" stroke-dasharray="5.8,6.0"/>
<circle cx="1270.1" cy="1366.1" r="4.2" fill="#f7dfa0"/>
<circle cx="1201.6" cy="1533.3" r="4.2" fill="#f7dfa0"/>
<circle cx="1205.7" cy="1536.0" r="4.2" fill="#f7dfa0"/>
<circle cx="1175.1" cy="1286.0" r="4.2" fill="#2e94d9"/>
<circle cx="1196.2" cy="1480.1" r="4.2" fill="#2e94d9"/>
<circle cx="1225.5" cy="1559.5" r="4.2" fill="#2e94d9"/>
<circle cx="1246.9" cy="1295.6" r="4.2" fill="#a2d5ad"/>
<circle cx="1214.9" cy="1366.1" r="4.2" fill="#a2d5ad"/>
<circle cx="1209.1" cy="1383.8" r="4.2" fill="#a2d5ad"/>
<circle cx="1357.2" cy="1388.5" r="4.2" fill="#2580bf"/>
<circle cx="1365.8" cy="1415.4" r="4.2" fill="#2580bf"/>
<circle cx="1320.1" cy="1472.3" r="4.2" fill="#2580bf"/>
<text x="1202.3" y="1330.1" font-size="15.45">Temperature</text>
<text x="1095.7" y="1369.3" font-size="15.45">Wickerhamomyces</text>
<text x="1265.3" y="1391.4" font-size="15.45">Kodamaea</text>
<text x="1344.3" y="1388.0" font-size="15.45">Saccharomycopsis</text>
<text x="1374.9" y="1409.1" font-size="15.45">Acidity</text>
<text x="1164.2" y="1418.0" font-size="15.45">Rhizomucor</text>
<text x="1243.2" y="1419.3" font-size="15.45">Candida</text>
<text x="1255.1" y="1433.3" font-size="15.45">Kazachstania</text>
<text x="1302.8" y="1444.2" font-size="15.45">Moisture</text>
<text x="1168.2" y="1448.3" font-size="15.45">Aspergillus</text>
<text x="1112.1" y="1468.0" font-size="15.45">Thermomyces</text>
<text x="1356.2" y="1468.0" font-size="15.45">Reducing sugar</text>
<text x="1268.7" y="1472.5" font-size="15.45">Thermoascus</text>
<text x="1178.5" y="1513.3" font-size="15.45">Starch</text>
<text x="1222.7" y="1576.0" font-size="15.45">Pichia</text>
<path d="M1249.0,1423.9L1214.2,1337.2" stroke="#ec1c24" stroke-width="3.5" fill="none"/>
<path d="M1209.8,1326.2L1207.8,1340.0L1210.9,1340.6L1212.7,1338.3L1216.0,1337.0L1218.9,1337.4L1220.8,1334.7Z" fill="#ec1c24"/>
<path d="M1249.0,1423.9L1359.2,1409.5" stroke="#ec1c24" stroke-width="3.5" fill="none"/>
<path d="M1370.9,1407.9L1358.1,1402.6L1356.6,1405.5L1358.4,1407.8L1358.9,1411.3L1357.7,1414.0L1359.9,1416.4Z" fill="#ec1c24"/>
<path d="M1249.0,1423.9L1210.4,1472.0" stroke="#ec1c24" stroke-width="3.5" fill="none"/>
<path d="M1203.0,1481.2L1216.0,1476.2L1215.0,1473.1L1212.1,1472.7L1209.3,1470.5L1208.3,1467.7L1205.1,1467.4Z" fill="#ec1c24"/>
<path d="M1249.0,1423.9L1340.0,1447.5" stroke="#ec1c24" stroke-width="3.5" fill="none"/>
<path d="M1351.5,1450.5L1341.6,1440.7L1339.2,1442.9L1340.0,1445.7L1339.1,1449.1L1337.0,1451.2L1338.1,1454.3Z" fill="#ec1c24"/>
<path d="M1249.0,1423.9L1282.4,1424.7" stroke="#ec1c24" stroke-width="3.5" fill="none"/>
<path d="M1294.2,1425.0L1282.4,1417.7L1280.5,1420.4L1282.0,1422.9L1281.9,1426.4L1280.3,1429.0L1282.1,1431.7Z" fill="#ec1c24"/>
<path d="M1249.0,1423.9L1117.2,1368.9" stroke="#3a85cc" stroke-width="3.5" fill="none"/>
<path d="M1106.3,1364.4L1114.6,1375.4L1117.3,1373.6L1116.9,1370.7L1118.3,1367.5L1120.7,1365.7L1120.0,1362.5Z" fill="#3a85cc"/>
<path d="M1249.0,1423.9L1276.2,1393.6" stroke="#3a85cc" stroke-width="3.5" fill="none"/>
<path d="M1284.0,1384.8L1270.8,1389.1L1271.6,1392.2L1274.5,1392.8L1277.1,1395.1L1278.0,1397.9L1281.3,1398.4Z" fill="#3a85cc"/>
<path d="M1249.0,1423.9L1414.4,1394.7" stroke="#3a85cc" stroke-width="3.5" fill="none"/>
<path d="M1426.0,1392.6L1413.0,1387.8L1411.7,1390.8L1413.6,1393.0L1414.2,1396.5L1413.2,1399.3L1415.4,1401.6Z" fill="#3a85cc"/>
<path d="M1249.0,1423.9L1306.2,1443.3" stroke="#3a85cc" stroke-width="3.5" fill="none"/>
<path d="M1317.4,1447.1L1308.3,1436.6L1305.7,1438.6L1306.3,1441.5L1305.2,1444.8L1302.9,1446.7L1303.8,1449.9Z" fill="#3a85cc"/>
<path d="M1249.0,1423.9L1151.0,1437.9" stroke="#3a85cc" stroke-width="3.5" fill="none"/>
<path d="M1139.3,1439.6L1152.2,1444.8L1153.6,1441.9L1151.7,1439.6L1151.2,1436.1L1152.3,1433.4L1150.2,1431.0Z" fill="#3a85cc"/>
<path d="M1249.0,1423.9L1235.5,1530.8" stroke="#3a85cc" stroke-width="3.5" fill="none"/>
<path d="M1234.0,1542.5L1242.4,1531.4L1240.0,1529.3L1237.3,1530.5L1233.8,1530.0L1231.4,1528.2L1228.5,1529.7Z" fill="#3a85cc"/>
<path d="M1249.0,1423.9L1243.7,1418.3" stroke="#3a85cc" stroke-width="3.5" fill="none"/>
<path d="M1235.7,1409.6L1238.8,1423.2L1242.0,1422.7L1242.8,1419.8L1245.3,1417.4L1248.2,1416.8L1249.0,1413.6Z" fill="#3a85cc"/>
<path d="M1249.0,1423.9L1252.0,1424.2" stroke="#3a85cc" stroke-width="3.5" fill="none"/>
<path d="M1260.2,1425.0L1252.2,1419.3L1250.7,1421.0L1251.7,1422.4L1251.4,1425.9L1250.2,1427.1L1251.3,1429.1Z" fill="#3a85cc"/>
<rect x="1083.1" y="1240.1" width="387.2" height="383.1" fill="none" stroke="#000" stroke-width="2.2"/>
<line x1="1083.1" y1="1623.2" x2="1083.1" y2="1627.3" stroke="#000" stroke-width="1.7"/>
<text x="1083.1" y="1640.2" font-size="15.8" text-anchor="middle">-150</text>
<line x1="1138.4" y1="1623.2" x2="1138.4" y2="1627.3" stroke="#000" stroke-width="1.7"/>
<text x="1138.4" y="1640.2" font-size="15.8" text-anchor="middle">-100</text>
<line x1="1193.7" y1="1623.2" x2="1193.7" y2="1627.3" stroke="#000" stroke-width="1.7"/>
<text x="1193.7" y="1640.2" font-size="15.8" text-anchor="middle">-50</text>
<line x1="1249.0" y1="1623.2" x2="1249.0" y2="1627.3" stroke="#000" stroke-width="1.7"/>
<text x="1249.0" y="1640.2" font-size="15.8" text-anchor="middle">0</text>
<line x1="1304.4" y1="1623.2" x2="1304.4" y2="1627.3" stroke="#000" stroke-width="1.7"/>
<text x="1304.4" y="1640.2" font-size="15.8" text-anchor="middle">50</text>
<line x1="1359.7" y1="1623.2" x2="1359.7" y2="1627.3" stroke="#000" stroke-width="1.7"/>
<text x="1359.7" y="1640.2" font-size="15.8" text-anchor="middle">100</text>
<line x1="1415.0" y1="1623.2" x2="1415.0" y2="1627.3" stroke="#000" stroke-width="1.7"/>
<text x="1415.0" y="1640.2" font-size="15.8" text-anchor="middle">150</text>
<line x1="1470.3" y1="1623.2" x2="1470.3" y2="1627.3" stroke="#000" stroke-width="1.7"/>
<text x="1470.3" y="1640.2" font-size="15.8" text-anchor="middle">200</text>
<line x1="1078.1" y1="1607.8" x2="1083.1" y2="1607.8" stroke="#000" stroke-width="1.7"/>
<text x="1075.7" y="1613.2" font-size="15.8" text-anchor="end">-200</text>
<line x1="1078.1" y1="1561.9" x2="1083.1" y2="1561.9" stroke="#000" stroke-width="1.7"/>
<text x="1075.7" y="1567.2" font-size="15.8" text-anchor="end">-150</text>
<line x1="1078.1" y1="1515.9" x2="1083.1" y2="1515.9" stroke="#000" stroke-width="1.7"/>
<text x="1075.7" y="1521.3" font-size="15.8" text-anchor="end">-100</text>
<line x1="1078.1" y1="1469.9" x2="1083.1" y2="1469.9" stroke="#000" stroke-width="1.7"/>
<text x="1075.7" y="1475.3" font-size="15.8" text-anchor="end">-50</text>
<line x1="1078.1" y1="1423.9" x2="1083.1" y2="1423.9" stroke="#000" stroke-width="1.7"/>
<text x="1075.7" y="1429.3" font-size="15.8" text-anchor="end">0</text>
<line x1="1078.1" y1="1378.0" x2="1083.1" y2="1378.0" stroke="#000" stroke-width="1.7"/>
<text x="1075.7" y="1383.3" font-size="15.8" text-anchor="end">50</text>
<line x1="1078.1" y1="1332.0" x2="1083.1" y2="1332.0" stroke="#000" stroke-width="1.7"/>
<text x="1075.7" y="1337.4" font-size="15.8" text-anchor="end">100</text>
<line x1="1078.1" y1="1286.0" x2="1083.1" y2="1286.0" stroke="#000" stroke-width="1.7"/>
<text x="1075.7" y="1291.4" font-size="15.8" text-anchor="end">150</text>
<line x1="1078.1" y1="1240.1" x2="1083.1" y2="1240.1" stroke="#000" stroke-width="1.7"/>
<text x="1075.7" y="1245.4" font-size="15.8" text-anchor="end">200</text>
<text x="1266.3" y="1662.0" font-size="19.16" text-anchor="middle">RDA1(25.94%)</text>
<text transform="translate(1041.8,1452.2) rotate(-90)" x="0" y="0" font-size="19.16" text-anchor="middle">RDA2(11.16%)</text>
<circle cx="1482.6" cy="1246.2" r="7.3" fill="#f7dfa0"/>
<text x="1492.4" y="1252.3" font-size="18.54">EC</text>
<circle cx="1482.6" cy="1277.9" r="7.3" fill="#2e94d9"/>
<text x="1492.4" y="1284.0" font-size="18.54">SC</text>
<circle cx="1482.6" cy="1308.5" r="7.3" fill="#a2d5ad"/>
<text x="1492.4" y="1314.6" font-size="18.54">MC</text>
<circle cx="1482.6" cy="1339.2" r="7.3" fill="#2580bf"/>
<text x="1492.4" y="1345.3" font-size="18.54">UC</text></g>
<g><line x1="72.2" y1="2042.5" x2="461.8" y2="2042.5" stroke="#7b7b7b" stroke-width="3.6" stroke-dasharray="5.8,6.0"/>
<line x1="288.6" y1="1844.6" x2="288.6" y2="2215.1" stroke="#7b7b7b" stroke-width="3.6" stroke-dasharray="5.8,6.0"/>
<circle cx="189.7" cy="1999.9" r="4.2" fill="#f7dfa0"/>
<circle cx="197.5" cy="2182.1" r="4.2" fill="#f7dfa0"/>
<circle cx="236.7" cy="2036.3" r="4.2" fill="#f7dfa0"/>
<circle cx="371.2" cy="2043.8" r="4.2" fill="#2e94d9"/>
<circle cx="306.5" cy="2072.8" r="4.2" fill="#2e94d9"/>
<circle cx="398.4" cy="2073.1" r="4.2" fill="#2e94d9"/>
<circle cx="298.7" cy="1994.5" r="4.2" fill="#a2d5ad"/>
<circle cx="215.2" cy="2059.2" r="4.2" fill="#a2d5ad"/>
<circle cx="259.5" cy="2068.7" r="4.2" fill="#a2d5ad"/>
<circle cx="333.7" cy="1890.9" r="4.2" fill="#2580bf"/>
<circle cx="390.6" cy="2011.5" r="4.2" fill="#2580bf"/>
<circle cx="266.3" cy="2070.7" r="4.2" fill="#2580bf"/>
<text x="166.2" y="1978.3" font-size="15.60">Saccharomycopsis</text>
<text x="103.9" y="2001.1" font-size="15.60">Temperature</text>
<text x="284.7" y="2002.1" font-size="15.60">Moisture</text>
<text x="343.3" y="2011.3" font-size="15.60">Acidity</text>
<text x="289.5" y="2027.3" font-size="15.60">Kazachstania</text>
<text x="338.2" y="2037.5" font-size="15.60">Starch</text>
<text x="209.4" y="2040.3" font-size="15.60">Aspergillus</text>
<text x="298.0" y="2044.3" font-size="15.60">Kodamaea</text>
<text x="210.5" y="2051.5" font-size="15.60">Thermoascus</text>
<text x="316.7" y="2052.2" font-size="15.60">Rasamsonia</text>
<text x="239.4" y="2060.7" font-size="15.60">Rhizomucor</text>
<text x="320.1" y="2065.8" font-size="15.60">Wickerhamomyces</text>
<text x="91.9" y="2094.7" font-size="15.60">Pichia</text>
<text x="359.3" y="2098.1" font-size="15.60">Thermomyces</text>
<text x="199.2" y="2118.6" font-size="15.60">Reducing sugar</text>
<path d="M288.6,2042.5L184.1,2005.5" stroke="#ec1c24" stroke-width="3.5" fill="none"/>
<path d="M173.0,2001.6L182.0,2012.2L184.6,2010.3L184.0,2007.4L185.2,2004.1L187.4,2002.2L186.6,1999.0Z" fill="#ec1c24"/>
<path d="M288.6,2042.5L304.8,2013.3" stroke="#ec1c24" stroke-width="3.5" fill="none"/>
<path d="M310.6,2003.0L298.6,2010.1L300.1,2013.0L303.1,2012.9L306.1,2014.6L307.6,2017.1L310.9,2016.9Z" fill="#ec1c24"/>
<path d="M288.6,2042.5L330.3,2012.6" stroke="#ec1c24" stroke-width="3.5" fill="none"/>
<path d="M339.9,2005.7L326.0,2007.0L326.1,2010.3L328.8,2011.5L330.9,2014.3L331.2,2017.2L334.2,2018.4Z" fill="#ec1c24"/>
<path d="M288.6,2042.5L320.6,2034.7" stroke="#ec1c24" stroke-width="3.5" fill="none"/>
<path d="M332.0,2031.9L318.7,2028.0L317.6,2031.0L319.7,2033.1L320.5,2036.5L319.6,2039.4L322.0,2041.6Z" fill="#ec1c24"/>
<path d="M288.6,2042.5L280.4,2094.5" stroke="#ec1c24" stroke-width="3.5" fill="none"/>
<path d="M278.6,2106.2L287.3,2095.4L285.0,2093.2L282.2,2094.3L278.8,2093.7L276.5,2091.9L273.5,2093.2Z" fill="#ec1c24"/>
<path d="M288.6,2042.5L279.0,1989.4" stroke="#3a85cc" stroke-width="3.5" fill="none"/>
<path d="M276.9,1977.8L272.1,1990.8L275.1,1992.1L277.3,1990.2L280.8,1989.6L283.6,1990.6L285.9,1988.3Z" fill="#3a85cc"/>
<path d="M288.6,2042.5L108.7,2072.9" stroke="#3a85cc" stroke-width="3.5" fill="none"/>
<path d="M97.1,2074.8L110.1,2079.7L111.4,2076.8L109.5,2074.5L108.9,2071.1L109.9,2068.3L107.7,2065.9Z" fill="#3a85cc"/>
<path d="M288.6,2042.5L418.7,2079.1" stroke="#3a85cc" stroke-width="3.5" fill="none"/>
<path d="M430.1,2082.3L420.4,2072.3L418.0,2074.4L418.7,2077.3L417.8,2080.7L415.6,2082.7L416.7,2085.8Z" fill="#3a85cc"/>
<path d="M288.6,2042.5L313.7,2048.3" stroke="#3a85cc" stroke-width="3.5" fill="none"/>
<path d="M325.2,2051.0L315.1,2041.5L312.7,2043.7L313.6,2046.5L312.8,2049.9L310.8,2052.1L311.9,2055.1Z" fill="#3a85cc"/>
<path d="M288.6,2042.5L290.6,2040.0" stroke="#3a85cc" stroke-width="3.5" fill="none"/>
<path d="M296.3,2032.9L286.2,2036.8L287.0,2039.2L288.9,2039.3L291.7,2041.5L292.2,2043.4L294.7,2043.6Z" fill="#3a85cc"/>
<path d="M288.6,2042.5L286.1,2043.6" stroke="#3a85cc" stroke-width="3.5" fill="none"/>
<path d="M279.2,2046.6L288.2,2047.6L288.5,2045.6L287.2,2045.0L285.9,2041.8L286.3,2040.5L284.6,2039.3Z" fill="#3a85cc"/>
<rect x="72.2" y="1844.6" width="389.6" height="370.5" fill="none" stroke="#000" stroke-width="2.2"/>
<line x1="72.2" y1="2215.1" x2="72.2" y2="2219.2" stroke="#000" stroke-width="1.7"/>
<text x="72.2" y="2232.5" font-size="16.1" text-anchor="middle">-250</text>
<line x1="115.5" y1="2215.1" x2="115.5" y2="2219.2" stroke="#000" stroke-width="1.7"/>
<text x="115.5" y="2232.5" font-size="16.1" text-anchor="middle">-200</text>
<line x1="158.8" y1="2215.1" x2="158.8" y2="2219.2" stroke="#000" stroke-width="1.7"/>
<text x="158.8" y="2232.5" font-size="16.1" text-anchor="middle">-150</text>
<line x1="202.1" y1="2215.1" x2="202.1" y2="2219.2" stroke="#000" stroke-width="1.7"/>
<text x="202.1" y="2232.5" font-size="16.1" text-anchor="middle">-100</text>
<line x1="245.3" y1="2215.1" x2="245.3" y2="2219.2" stroke="#000" stroke-width="1.7"/>
<text x="245.3" y="2232.5" font-size="16.1" text-anchor="middle">-50</text>
<line x1="288.6" y1="2215.1" x2="288.6" y2="2219.2" stroke="#000" stroke-width="1.7"/>
<text x="288.6" y="2232.5" font-size="16.1" text-anchor="middle">0</text>
<line x1="331.9" y1="2215.1" x2="331.9" y2="2219.2" stroke="#000" stroke-width="1.7"/>
<text x="331.9" y="2232.5" font-size="16.1" text-anchor="middle">50</text>
<line x1="375.2" y1="2215.1" x2="375.2" y2="2219.2" stroke="#000" stroke-width="1.7"/>
<text x="375.2" y="2232.5" font-size="16.1" text-anchor="middle">100</text>
<line x1="418.5" y1="2215.1" x2="418.5" y2="2219.2" stroke="#000" stroke-width="1.7"/>
<text x="418.5" y="2232.5" font-size="16.1" text-anchor="middle">150</text>
<line x1="461.8" y1="2215.1" x2="461.8" y2="2219.2" stroke="#000" stroke-width="1.7"/>
<text x="461.8" y="2232.5" font-size="16.1" text-anchor="middle">200</text>
<line x1="67.2" y1="2200.8" x2="72.2" y2="2200.8" stroke="#000" stroke-width="1.7"/>
<text x="64.8" y="2206.3" font-size="16.1" text-anchor="end">-200</text>
<line x1="67.2" y1="2161.3" x2="72.2" y2="2161.3" stroke="#000" stroke-width="1.7"/>
<text x="64.8" y="2166.7" font-size="16.1" text-anchor="end">-150</text>
<line x1="67.2" y1="2121.7" x2="72.2" y2="2121.7" stroke="#000" stroke-width="1.7"/>
<text x="64.8" y="2127.1" font-size="16.1" text-anchor="end">-100</text>
<line x1="67.2" y1="2082.1" x2="72.2" y2="2082.1" stroke="#000" stroke-width="1.7"/>
<text x="64.8" y="2087.6" font-size="16.1" text-anchor="end">-50</text>
<line x1="67.2" y1="2042.5" x2="72.2" y2="2042.5" stroke="#000" stroke-width="1.7"/>
<text x="64.8" y="2048.0" font-size="16.1" text-anchor="end">0</text>
<line x1="67.2" y1="2002.9" x2="72.2" y2="2002.9" stroke="#000" stroke-width="1.7"/>
<text x="64.8" y="2008.4" font-size="16.1" text-anchor="end">50</text>
<line x1="67.2" y1="1963.4" x2="72.2" y2="1963.4" stroke="#000" stroke-width="1.7"/>
<text x="64.8" y="1968.8" font-size="16.1" text-anchor="end">100</text>
<line x1="67.2" y1="1923.8" x2="72.2" y2="1923.8" stroke="#000" stroke-width="1.7"/>
<text x="64.8" y="1929.3" font-size="16.1" text-anchor="end">150</text>
<line x1="67.2" y1="1884.2" x2="72.2" y2="1884.2" stroke="#000" stroke-width="1.7"/>
<text x="64.8" y="1889.7" font-size="16.1" text-anchor="end">200</text>
<line x1="67.2" y1="1844.6" x2="72.2" y2="1844.6" stroke="#000" stroke-width="1.7"/>
<text x="64.8" y="1850.1" font-size="16.1" text-anchor="end">250</text>
<text x="276.5" y="2253.3" font-size="19.34" text-anchor="middle">RDA1(31.33%)</text>
<text transform="translate(32.9,2012.5) rotate(-90)" x="0" y="0" font-size="19.34" text-anchor="middle">RDA2(4.28%)</text>
<circle cx="474.0" cy="1850.1" r="7.3" fill="#f7dfa0"/>
<text x="483.8" y="1856.2" font-size="18.72">ED</text>
<circle cx="474.0" cy="1880.4" r="7.3" fill="#2e94d9"/>
<text x="483.8" y="1886.5" font-size="18.72">SD</text>
<circle cx="474.0" cy="1910.4" r="7.3" fill="#a2d5ad"/>
<text x="483.8" y="1916.5" font-size="18.72">MD</text>
<circle cx="474.0" cy="1941.0" r="7.3" fill="#2580bf"/>
<text x="483.8" y="1947.1" font-size="18.72">UD</text></g>
<g><line x1="577.1" y1="2002.3" x2="966.3" y2="2002.3" stroke="#7b7b7b" stroke-width="3.6" stroke-dasharray="5.8,6.0"/>
<line x1="810.6" y1="1841.6" x2="810.6" y2="2216.8" stroke="#7b7b7b" stroke-width="3.6" stroke-dasharray="5.8,6.0"/>
<circle cx="737.1" cy="1995.5" r="4.2" fill="#f7dfa0"/>
<circle cx="732.0" cy="2059.5" r="4.2" fill="#f7dfa0"/>
<circle cx="860.8" cy="2160.6" r="4.2" fill="#f7dfa0"/>
<circle cx="870.3" cy="1865.1" r="4.2" fill="#2e94d9"/>
<circle cx="806.3" cy="1977.4" r="4.2" fill="#2e94d9"/>
<circle cx="907.4" cy="1988.0" r="4.2" fill="#2e94d9"/>
<circle cx="801.2" cy="1972.7" r="4.2" fill="#a2d5ad"/>
<circle cx="869.3" cy="1952.2" r="4.2" fill="#a2d5ad"/>
<circle cx="879.5" cy="2020.0" r="4.2" fill="#a2d5ad"/>
<circle cx="827.7" cy="1999.6" r="4.2" fill="#2580bf"/>
<circle cx="754.5" cy="2014.9" r="4.2" fill="#2580bf"/>
<circle cx="680.9" cy="2017.6" r="4.2" fill="#2580bf"/>
<text x="633.6" y="1890.4" font-size="15.00">Acidity</text>
<text x="838.6" y="1936.4" font-size="15.00">Wickerhamomyces</text>
<text x="691.5" y="1948.3" font-size="15.00">Saccharomycopsis</text>
<text x="794.3" y="1994.3" font-size="15.00">Kodamaea</text>
<text x="725.6" y="2002.8" font-size="15.00">Rasamsonia</text>
<text x="837.6" y="2005.5" font-size="15.00">Kazachstania</text>
<text x="825.0" y="2017.1" font-size="15.00">Rhizomucor</text>
<text x="735.8" y="2024.9" font-size="15.00">Aspergillus</text>
<text x="895.8" y="2030.7" font-size="15.00">Starch</text>
<text x="590.0" y="2033.4" font-size="15.00">Thermomyces</text>
<text x="704.8" y="2046.4" font-size="15.00">Thermoascus</text>
<text x="915.2" y="2093.0" font-size="15.00">Pichia</text>
<text x="720.1" y="2109.0" font-size="15.00">Temperature</text>
<text x="670.7" y="2133.9" font-size="15.00">Moisture</text>
<text x="774.9" y="2155.0" font-size="15.00">Reducing sugar</text>
<path d="M810.6,2002.3L685.4,1881.8" stroke="#ec1c24" stroke-width="3.5" fill="none"/>
<path d="M676.9,1873.6L680.7,1886.9L683.8,1886.2L684.5,1883.4L686.9,1880.8L689.8,1880.0L690.4,1876.8Z" fill="#ec1c24"/>
<path d="M810.6,2002.3L892.4,2017.2" stroke="#ec1c24" stroke-width="3.5" fill="none"/>
<path d="M904.0,2019.3L893.5,2010.3L891.2,2012.6L892.2,2015.4L891.6,2018.8L889.7,2021.1L890.9,2024.1Z" fill="#ec1c24"/>
<path d="M810.6,2002.3L738.8,2090.2" stroke="#ec1c24" stroke-width="3.5" fill="none"/>
<path d="M731.3,2099.3L744.4,2094.5L743.4,2091.4L740.5,2090.9L737.8,2088.7L736.7,2085.9L733.5,2085.6Z" fill="#ec1c24"/>
<path d="M810.6,2002.3L693.9,2115.0" stroke="#ec1c24" stroke-width="3.5" fill="none"/>
<path d="M685.4,2123.2L698.9,2119.9L698.3,2116.7L695.4,2115.9L693.0,2113.4L692.3,2110.5L689.1,2109.8Z" fill="#ec1c24"/>
<path d="M810.6,2002.3L826.9,2131.9" stroke="#ec1c24" stroke-width="3.5" fill="none"/>
<path d="M828.4,2143.6L833.8,2130.8L830.9,2129.4L828.6,2131.2L825.1,2131.6L822.4,2130.5L820.0,2132.6Z" fill="#ec1c24"/>
<path d="M810.6,2002.3L812.4,2003.3" stroke="#ec1c24" stroke-width="3.5" fill="none"/>
<path d="M816.5,2005.7L813.5,2000.5L812.3,2001.1L812.8,2001.5L811.0,2004.6L810.4,2004.3L810.5,2005.7Z" fill="#ec1c24"/>
<path d="M810.6,2002.3L804.1,1940.1" stroke="#3a85cc" stroke-width="3.5" fill="none"/>
<path d="M802.9,1928.4L797.2,1941.1L800.0,1942.6L802.4,1940.8L805.9,1940.4L808.6,1941.7L811.1,1939.6Z" fill="#3a85cc"/>
<path d="M810.6,2002.3L895.3,1944.3" stroke="#3a85cc" stroke-width="3.5" fill="none"/>
<path d="M905.0,1937.6L891.2,1938.6L891.2,1941.8L893.9,1943.1L895.9,1946.0L896.1,1948.9L899.1,1950.2Z" fill="#3a85cc"/>
<path d="M810.6,2002.3L623.9,2017.7" stroke="#3a85cc" stroke-width="3.5" fill="none"/>
<path d="M612.2,2018.6L624.7,2024.6L626.3,2021.8L624.6,2019.4L624.3,2015.9L625.6,2013.2L623.5,2010.7Z" fill="#3a85cc"/>
<path d="M810.6,2002.3L786.4,2032.3" stroke="#3a85cc" stroke-width="3.5" fill="none"/>
<path d="M779.0,2041.5L792.0,2036.5L791.0,2033.4L788.1,2033.0L785.4,2030.8L784.3,2028.0L781.1,2027.7Z" fill="#3a85cc"/>
<path d="M810.6,2002.3L929.6,2072.3" stroke="#3a85cc" stroke-width="3.5" fill="none"/>
<path d="M939.8,2078.2L933.0,2066.1L930.0,2067.5L930.0,2070.5L928.3,2073.5L925.7,2074.9L925.9,2078.2Z" fill="#3a85cc"/>
<path d="M810.6,2002.3L810.3,2007.5" stroke="#3a85cc" stroke-width="3.5" fill="none"/>
<path d="M809.7,2019.3L817.3,2007.7L814.7,2005.8L812.1,2007.1L808.6,2006.9L806.2,2005.3L803.4,2006.9Z" fill="#3a85cc"/>
<path d="M810.6,2002.3L807.7,2001.4" stroke="#3a85cc" stroke-width="3.5" fill="none"/>
<path d="M799.5,1998.9L806.4,2006.4L808.3,2004.9L807.6,2003.2L808.7,1999.9L810.1,1998.8L809.4,1996.5Z" fill="#3a85cc"/>
<rect x="577.1" y="1841.6" width="389.2" height="375.3" fill="none" stroke="#000" stroke-width="2.2"/>
<line x1="577.1" y1="2216.8" x2="577.1" y2="2220.9" stroke="#000" stroke-width="1.7"/>
<text x="577.1" y="2233.2" font-size="15.2" text-anchor="middle">-300</text>
<line x1="616.0" y1="2216.8" x2="616.0" y2="2220.9" stroke="#000" stroke-width="1.7"/>
<text x="616.0" y="2233.2" font-size="15.2" text-anchor="middle">-250</text>
<line x1="654.9" y1="2216.8" x2="654.9" y2="2220.9" stroke="#000" stroke-width="1.7"/>
<text x="654.9" y="2233.2" font-size="15.2" text-anchor="middle">-200</text>
<line x1="693.9" y1="2216.8" x2="693.9" y2="2220.9" stroke="#000" stroke-width="1.7"/>
<text x="693.9" y="2233.2" font-size="15.2" text-anchor="middle">-150</text>
<line x1="732.8" y1="2216.8" x2="732.8" y2="2220.9" stroke="#000" stroke-width="1.7"/>
<text x="732.8" y="2233.2" font-size="15.2" text-anchor="middle">-100</text>
<line x1="771.7" y1="2216.8" x2="771.7" y2="2220.9" stroke="#000" stroke-width="1.7"/>
<text x="771.7" y="2233.2" font-size="15.2" text-anchor="middle">-50</text>
<line x1="810.6" y1="2216.8" x2="810.6" y2="2220.9" stroke="#000" stroke-width="1.7"/>
<text x="810.6" y="2233.2" font-size="15.2" text-anchor="middle">0</text>
<line x1="849.5" y1="2216.8" x2="849.5" y2="2220.9" stroke="#000" stroke-width="1.7"/>
<text x="849.5" y="2233.2" font-size="15.2" text-anchor="middle">50</text>
<line x1="888.5" y1="2216.8" x2="888.5" y2="2220.9" stroke="#000" stroke-width="1.7"/>
<text x="888.5" y="2233.2" font-size="15.2" text-anchor="middle">100</text>
<line x1="927.4" y1="2216.8" x2="927.4" y2="2220.9" stroke="#000" stroke-width="1.7"/>
<text x="927.4" y="2233.2" font-size="15.2" text-anchor="middle">150</text>
<line x1="966.3" y1="2216.8" x2="966.3" y2="2220.9" stroke="#000" stroke-width="1.7"/>
<text x="966.3" y="2233.2" font-size="15.2" text-anchor="middle">200</text>
<line x1="572.1" y1="2203.2" x2="577.1" y2="2203.2" stroke="#000" stroke-width="1.7"/>
<text x="569.7" y="2208.4" font-size="15.2" text-anchor="end">-250</text>
<line x1="572.1" y1="2163.0" x2="577.1" y2="2163.0" stroke="#000" stroke-width="1.7"/>
<text x="569.7" y="2168.2" font-size="15.2" text-anchor="end">-200</text>
<line x1="572.1" y1="2122.8" x2="577.1" y2="2122.8" stroke="#000" stroke-width="1.7"/>
<text x="569.7" y="2128.0" font-size="15.2" text-anchor="end">-150</text>
<line x1="572.1" y1="2082.7" x2="577.1" y2="2082.7" stroke="#000" stroke-width="1.7"/>
<text x="569.7" y="2087.8" font-size="15.2" text-anchor="end">-100</text>
<line x1="572.1" y1="2042.5" x2="577.1" y2="2042.5" stroke="#000" stroke-width="1.7"/>
<text x="569.7" y="2047.6" font-size="15.2" text-anchor="end">-50</text>
<line x1="572.1" y1="2002.3" x2="577.1" y2="2002.3" stroke="#000" stroke-width="1.7"/>
<text x="569.7" y="2007.5" font-size="15.2" text-anchor="end">0</text>
<line x1="572.1" y1="1962.1" x2="577.1" y2="1962.1" stroke="#000" stroke-width="1.7"/>
<text x="569.7" y="1967.3" font-size="15.2" text-anchor="end">50</text>
<line x1="572.1" y1="1921.9" x2="577.1" y2="1921.9" stroke="#000" stroke-width="1.7"/>
<text x="569.7" y="1927.1" font-size="15.2" text-anchor="end">100</text>
<line x1="572.1" y1="1881.7" x2="577.1" y2="1881.7" stroke="#000" stroke-width="1.7"/>
<text x="569.7" y="1886.9" font-size="15.2" text-anchor="end">150</text>
<line x1="572.1" y1="1841.6" x2="577.1" y2="1841.6" stroke="#000" stroke-width="1.7"/>
<text x="569.7" y="1846.7" font-size="15.2" text-anchor="end">200</text>
<text x="790.9" y="2254.3" font-size="18.60" text-anchor="middle">RDA1(35.69%)</text>
<text transform="translate(537.4,2022.7) rotate(-90)" x="0" y="0" font-size="18.60" text-anchor="middle">RDA2(8.63%)</text>
<circle cx="977.6" cy="1848.4" r="7.3" fill="#f7dfa0"/>
<text x="987.4" y="1854.5" font-size="18.00">EE</text>
<circle cx="977.6" cy="1878.0" r="7.3" fill="#2e94d9"/>
<text x="987.4" y="1884.1" font-size="18.00">SE</text>
<circle cx="977.6" cy="1906.9" r="7.3" fill="#a2d5ad"/>
<text x="987.4" y="1913.1" font-size="18.00">ME</text>
<circle cx="977.6" cy="1937.6" r="7.3" fill="#2580bf"/>
<text x="987.4" y="1943.7" font-size="18.00">UE</text></g>
<g><line x1="1083.1" y1="2024.1" x2="1468.9" y2="2024.1" stroke="#7b7b7b" stroke-width="3.6" stroke-dasharray="5.8,6.0"/>
<line x1="1231.5" y1="1845.6" x2="1231.5" y2="2216.2" stroke="#7b7b7b" stroke-width="3.6" stroke-dasharray="5.8,6.0"/>
<circle cx="1250.7" cy="2069.7" r="4.2" fill="#f7dfa0"/>
<circle cx="1239.1" cy="2082.3" r="4.2" fill="#f7dfa0"/>
<circle cx="1181.2" cy="2124.9" r="4.2" fill="#f7dfa0"/>
<circle cx="1207.1" cy="1878.7" r="4.2" fill="#2e94d9"/>
<circle cx="1267.0" cy="2068.0" r="4.2" fill="#2e94d9"/>
<circle cx="1242.1" cy="2072.4" r="4.2" fill="#2e94d9"/>
<circle cx="1225.5" cy="1873.9" r="4.2" fill="#a2d5ad"/>
<circle cx="1248.3" cy="1968.6" r="4.2" fill="#a2d5ad"/>
<circle cx="1256.1" cy="2016.3" r="4.2" fill="#a2d5ad"/>
<circle cx="1162.5" cy="2056.4" r="4.2" fill="#2580bf"/>
<circle cx="1228.9" cy="2058.1" r="4.2" fill="#2580bf"/>
<circle cx="1261.9" cy="2018.6" r="4.2" fill="#2580bf"/>
<text x="1273.1" y="1881.9" font-size="15.00">Fermentation power</text>
<text x="1266.0" y="1916.0" font-size="15.00">Esterification power</text>
<text x="1112.7" y="1940.8" font-size="15.00">Wickerhamomyces</text>
<text x="1241.5" y="2000.4" font-size="15.00">Temperature</text>
<text x="1215.2" y="2012.3" font-size="15.00">Rhizomucor</text>
<text x="1145.4" y="2019.8" font-size="15.00">Aspergillus</text>
<text x="1240.8" y="2023.2" font-size="15.00">Kodamaea</text>
<text x="1141.0" y="2035.1" font-size="15.00">Rasamsonia</text>
<text x="1232.9" y="2036.2" font-size="15.00">Kazachstania</text>
<text x="1092.6" y="2049.8" font-size="15.00">Saccharomycopsis</text>
<text x="1213.5" y="2053.9" font-size="15.00">Thermoascus</text>
<text x="1248.3" y="2065.1" font-size="15.00">Starch</text>
<text x="1377.0" y="2068.5" font-size="15.00">Thermomyces</text>
<text x="1086.5" y="2075.3" font-size="15.00">Pichia</text>
<text x="1124.7" y="2094.1" font-size="15.00">Acidity</text>
<text x="1166.5" y="2105.0" font-size="15.00">Moisture</text>
<text x="1242.5" y="2098.8" font-size="15.00">Reducing sugar</text>
<text x="1253.4" y="2131.2" font-size="15.00">liquefaction power</text>
<text x="1206.4" y="2169.0" font-size="15.00">Saccharification power</text>
<path d="M1231.5,2024.1L1261.8,1881.0" stroke="#ec1c24" stroke-width="3.5" fill="none"/>
<path d="M1264.3,1869.5L1254.9,1879.8L1257.2,1882.1L1260.0,1881.2L1263.4,1881.9L1265.6,1883.9L1268.6,1882.7Z" fill="#ec1c24"/>
<path d="M1231.5,2024.1L1254.4,1911.0" stroke="#ec1c24" stroke-width="3.5" fill="none"/>
<path d="M1256.8,1899.5L1247.5,1909.8L1249.8,1912.1L1252.6,1911.2L1256.1,1911.9L1258.3,1913.8L1261.3,1912.6Z" fill="#ec1c24"/>
<path d="M1231.5,2024.1L1235.8,2011.7" stroke="#ec1c24" stroke-width="3.5" fill="none"/>
<path d="M1239.8,2000.6L1229.2,2009.6L1231.1,2012.2L1234.0,2011.6L1237.3,2012.8L1239.2,2015.0L1242.4,2014.2Z" fill="#ec1c24"/>
<path d="M1231.5,2024.1L1253.6,2046.7" stroke="#ec1c24" stroke-width="3.5" fill="none"/>
<path d="M1261.9,2055.1L1258.5,2041.6L1255.3,2042.2L1254.5,2045.1L1252.0,2047.5L1249.2,2048.2L1248.5,2051.4Z" fill="#ec1c24"/>
<path d="M1231.5,2024.1L1179.6,2081.4" stroke="#ec1c24" stroke-width="3.5" fill="none"/>
<path d="M1171.6,2090.2L1184.9,2086.0L1184.1,2082.8L1181.2,2082.2L1178.6,2079.9L1177.7,2077.0L1174.5,2076.6Z" fill="#ec1c24"/>
<path d="M1231.5,2024.1L1197.3,2083.3" stroke="#ec1c24" stroke-width="3.5" fill="none"/>
<path d="M1191.4,2093.6L1203.5,2086.7L1202.0,2083.8L1199.1,2083.8L1196.0,2082.0L1194.6,2079.5L1191.3,2079.7Z" fill="#ec1c24"/>
<path d="M1231.5,2024.1L1235.1,2094.4" stroke="#ec1c24" stroke-width="3.5" fill="none"/>
<path d="M1235.7,2106.2L1242.1,2093.8L1239.3,2092.2L1236.8,2093.8L1233.3,2094.0L1230.7,2092.6L1228.1,2094.5Z" fill="#ec1c24"/>
<path d="M1231.5,2024.1L1250.7,2104.9" stroke="#ec1c24" stroke-width="3.5" fill="none"/>
<path d="M1253.4,2116.4L1257.4,2103.1L1254.4,2102.0L1252.2,2104.0L1248.8,2104.8L1246.0,2103.9L1243.8,2106.3Z" fill="#ec1c24"/>
<path d="M1231.5,2024.1L1198.3,2161.1" stroke="#ec1c24" stroke-width="3.5" fill="none"/>
<path d="M1195.5,2172.6L1205.1,2162.6L1202.9,2160.2L1200.1,2161.0L1196.7,2160.2L1194.6,2158.1L1191.5,2159.3Z" fill="#ec1c24"/>
<path d="M1231.5,2024.1L1230.7,1937.5" stroke="#3a85cc" stroke-width="3.5" fill="none"/>
<path d="M1230.6,1925.7L1223.7,1937.7L1226.4,1939.5L1228.9,1938.0L1232.4,1938.0L1235.0,1939.4L1237.7,1937.6Z" fill="#3a85cc"/>
<path d="M1231.5,2024.1L1430.0,2050.8" stroke="#3a85cc" stroke-width="3.5" fill="none"/>
<path d="M1441.7,2052.4L1430.7,2043.8L1428.6,2046.3L1429.7,2049.0L1429.3,2052.4L1427.4,2054.8L1428.9,2057.7Z" fill="#3a85cc"/>
<path d="M1231.5,2024.1L1124.8,2063.0" stroke="#3a85cc" stroke-width="3.5" fill="none"/>
<path d="M1113.8,2067.0L1127.4,2069.5L1128.2,2066.3L1125.9,2064.4L1124.7,2061.1L1125.2,2058.2L1122.6,2056.3Z" fill="#3a85cc"/>
<path d="M1231.5,2024.1L1198.7,2051.9" stroke="#3a85cc" stroke-width="3.5" fill="none"/>
<path d="M1189.7,2059.5L1203.4,2057.1L1203.0,2053.9L1200.2,2052.9L1197.9,2050.2L1197.4,2047.3L1194.3,2046.4Z" fill="#3a85cc"/>
<path d="M1231.5,2024.1L1219.1,2016.4" stroke="#3a85cc" stroke-width="3.5" fill="none"/>
<path d="M1209.1,2010.1L1215.6,2022.4L1218.5,2021.1L1218.6,2018.1L1220.5,2015.1L1223.1,2013.8L1223.0,2010.5Z" fill="#3a85cc"/>
<path d="M1231.5,2024.1L1226.6,2030.4" stroke="#3a85cc" stroke-width="3.5" fill="none"/>
<path d="M1219.3,2039.8L1232.2,2034.6L1231.2,2031.5L1228.3,2031.1L1225.5,2029.0L1224.4,2026.2L1221.2,2026.0Z" fill="#3a85cc"/>
<path d="M1231.5,2024.1L1233.8,2022.8" stroke="#3a85cc" stroke-width="3.5" fill="none"/>
<path d="M1239.8,2019.3L1231.4,2019.3L1231.2,2021.2L1232.5,2021.5L1234.2,2024.5L1233.8,2025.7L1235.6,2026.6Z" fill="#3a85cc"/>
<rect x="1083.1" y="1845.6" width="385.8" height="370.5" fill="none" stroke="#000" stroke-width="2.2"/>
<line x1="1083.1" y1="2216.2" x2="1083.1" y2="2220.3" stroke="#000" stroke-width="1.7"/>
<text x="1083.1" y="2231.9" font-size="14.6" text-anchor="middle">-250</text>
<line x1="1112.8" y1="2216.2" x2="1112.8" y2="2220.3" stroke="#000" stroke-width="1.7"/>
<text x="1112.8" y="2231.9" font-size="14.6" text-anchor="middle">-200</text>
<line x1="1142.5" y1="2216.2" x2="1142.5" y2="2220.3" stroke="#000" stroke-width="1.7"/>
<text x="1142.5" y="2231.9" font-size="14.6" text-anchor="middle">-150</text>
<line x1="1172.1" y1="2216.2" x2="1172.1" y2="2220.3" stroke="#000" stroke-width="1.7"/>
<text x="1172.1" y="2231.9" font-size="14.6" text-anchor="middle">-100</text>
<line x1="1201.8" y1="2216.2" x2="1201.8" y2="2220.3" stroke="#000" stroke-width="1.7"/>
<text x="1201.8" y="2231.9" font-size="14.6" text-anchor="middle">-50</text>
<line x1="1231.5" y1="2216.2" x2="1231.5" y2="2220.3" stroke="#000" stroke-width="1.7"/>
<text x="1231.5" y="2231.9" font-size="14.6" text-anchor="middle">0</text>
<line x1="1261.2" y1="2216.2" x2="1261.2" y2="2220.3" stroke="#000" stroke-width="1.7"/>
<text x="1261.2" y="2231.9" font-size="14.6" text-anchor="middle">50</text>
<line x1="1290.9" y1="2216.2" x2="1290.9" y2="2220.3" stroke="#000" stroke-width="1.7"/>
<text x="1290.9" y="2231.9" font-size="14.6" text-anchor="middle">100</text>
<line x1="1320.5" y1="2216.2" x2="1320.5" y2="2220.3" stroke="#000" stroke-width="1.7"/>
<text x="1320.5" y="2231.9" font-size="14.6" text-anchor="middle">150</text>
<line x1="1350.2" y1="2216.2" x2="1350.2" y2="2220.3" stroke="#000" stroke-width="1.7"/>
<text x="1350.2" y="2231.9" font-size="14.6" text-anchor="middle">200</text>
<line x1="1379.9" y1="2216.2" x2="1379.9" y2="2220.3" stroke="#000" stroke-width="1.7"/>
<text x="1379.9" y="2231.9" font-size="14.6" text-anchor="middle">250</text>
<line x1="1409.6" y1="2216.2" x2="1409.6" y2="2220.3" stroke="#000" stroke-width="1.7"/>
<text x="1409.6" y="2231.9" font-size="14.6" text-anchor="middle">300</text>
<line x1="1439.3" y1="2216.2" x2="1439.3" y2="2220.3" stroke="#000" stroke-width="1.7"/>
<text x="1439.3" y="2231.9" font-size="14.6" text-anchor="middle">350</text>
<line x1="1468.9" y1="2216.2" x2="1468.9" y2="2220.3" stroke="#000" stroke-width="1.7"/>
<text x="1468.9" y="2231.9" font-size="14.6" text-anchor="middle">400</text>
<line x1="1078.1" y1="2202.5" x2="1083.1" y2="2202.5" stroke="#000" stroke-width="1.7"/>
<text x="1075.7" y="2207.5" font-size="14.6" text-anchor="end">-120</text>
<line x1="1078.1" y1="2172.8" x2="1083.1" y2="2172.8" stroke="#000" stroke-width="1.7"/>
<text x="1075.7" y="2177.8" font-size="14.6" text-anchor="end">-100</text>
<line x1="1078.1" y1="2143.1" x2="1083.1" y2="2143.1" stroke="#000" stroke-width="1.7"/>
<text x="1075.7" y="2148.0" font-size="14.6" text-anchor="end">-80</text>
<line x1="1078.1" y1="2113.3" x2="1083.1" y2="2113.3" stroke="#000" stroke-width="1.7"/>
<text x="1075.7" y="2118.3" font-size="14.6" text-anchor="end">-60</text>
<line x1="1078.1" y1="2083.6" x2="1083.1" y2="2083.6" stroke="#000" stroke-width="1.7"/>
<text x="1075.7" y="2088.5" font-size="14.6" text-anchor="end">-40</text>
<line x1="1078.1" y1="2053.8" x2="1083.1" y2="2053.8" stroke="#000" stroke-width="1.7"/>
<text x="1075.7" y="2058.8" font-size="14.6" text-anchor="end">-20</text>
<line x1="1078.1" y1="2024.1" x2="1083.1" y2="2024.1" stroke="#000" stroke-width="1.7"/>
<text x="1075.7" y="2029.1" font-size="14.6" text-anchor="end">0</text>
<line x1="1078.1" y1="1994.3" x2="1083.1" y2="1994.3" stroke="#000" stroke-width="1.7"/>
<text x="1075.7" y="1999.3" font-size="14.6" text-anchor="end">20</text>
<line x1="1078.1" y1="1964.6" x2="1083.1" y2="1964.6" stroke="#000" stroke-width="1.7"/>
<text x="1075.7" y="1969.6" font-size="14.6" text-anchor="end">40</text>
<line x1="1078.1" y1="1934.9" x2="1083.1" y2="1934.9" stroke="#000" stroke-width="1.7"/>
<text x="1075.7" y="1939.8" font-size="14.6" text-anchor="end">60</text>
<line x1="1078.1" y1="1905.1" x2="1083.1" y2="1905.1" stroke="#000" stroke-width="1.7"/>
<text x="1075.7" y="1910.1" font-size="14.6" text-anchor="end">80</text>
<line x1="1078.1" y1="1875.4" x2="1083.1" y2="1875.4" stroke="#000" stroke-width="1.7"/>
<text x="1075.7" y="1880.4" font-size="14.6" text-anchor="end">100</text>
<line x1="1078.1" y1="1845.6" x2="1083.1" y2="1845.6" stroke="#000" stroke-width="1.7"/>
<text x="1075.7" y="1850.6" font-size="14.6" text-anchor="end">120</text>
<text x="1278.9" y="2252.6" font-size="18.60" text-anchor="middle">RDA1(85.36%)</text>
<text transform="translate(1046.9,2014.2) rotate(-90)" x="0" y="0" font-size="18.60" text-anchor="middle">RDA2(3.14%)</text>
<circle cx="1479.8" cy="1851.8" r="7.3" fill="#f7dfa0"/>
<text x="1489.6" y="1857.9" font-size="18.00">EF</text>
<circle cx="1479.8" cy="1881.4" r="7.3" fill="#2e94d9"/>
<text x="1489.6" y="1887.5" font-size="18.00">SF</text>
<circle cx="1479.8" cy="1911.0" r="7.3" fill="#a2d5ad"/>
<text x="1489.6" y="1917.2" font-size="18.00">MF</text>
<circle cx="1479.8" cy="1940.3" r="7.3" fill="#2580bf"/>
<text x="1489.6" y="1946.4" font-size="18.00">UF</text></g>
<rect x="153.9" y="458.7" width="269.0" height="21.1" fill="#5591ca"/>
<text x="212.8" y="476.3" font-size="16.3" font-weight="bold" textLength="37.5" lengthAdjust="spacingAndGlyphs">Rank</text>
<text x="283.7" y="476.3" font-size="16.3" font-weight="bold" textLength="80.7" lengthAdjust="spacingAndGlyphs">rearrange 1</text>
<line x1="251.0" y1="472.3" x2="277.0" y2="472.3" stroke="#000" stroke-width="1.3"/>
<path d="M281.0,472.3L275.0,469.9L275.0,474.7Z" fill="#000"/>
<rect x="153.9" y="488.3" width="269.0" height="20.8" fill="#cfdbec"/>
<text x="235.0" y="504.3" font-size="16.6" textLength="97.0" lengthAdjust="spacingAndGlyphs">reducing sugar</text>
<text x="149.5" y="505.7" font-size="19.5" text-anchor="end">EG</text>
<rect x="153.9" y="512.2" width="269.0" height="23.1" fill="#e8edf6"/>
<text x="203.3" y="529.4" font-size="16.6" textLength="146.8" lengthAdjust="spacingAndGlyphs">temperature, moisture</text>
<text x="149.5" y="530.8" font-size="19.5" text-anchor="end">SG</text>
<rect x="153.9" y="538.7" width="269.0" height="23.2" fill="#cfdbec"/>
<text x="203.3" y="555.9" font-size="16.6" textLength="145.7" lengthAdjust="spacingAndGlyphs">temperature, moisture</text>
<text x="149.5" y="557.3" font-size="19.5" text-anchor="end">MG</text>
<rect x="153.9" y="565.3" width="269.0" height="23.8" fill="#e8edf6"/>
<text x="262.2" y="582.8" font-size="16.6" textLength="43.6" lengthAdjust="spacingAndGlyphs">acidity</text>
<text x="149.5" y="584.2" font-size="19.5" text-anchor="end">UG</text>
<rect x="628.1" y="459.4" width="264.8" height="22.1" fill="#5591ca"/>
<text x="664.4" y="477.3" font-size="16.0" font-weight="bold" textLength="79.3" lengthAdjust="spacingAndGlyphs">rearrange 1</text>
<text x="773.7" y="477.3" font-size="16.0" font-weight="bold" textLength="80.7" lengthAdjust="spacingAndGlyphs">rearrange 2</text>
<line x1="744.4" y1="473.3" x2="769.7" y2="473.3" stroke="#000" stroke-width="1.3"/>
<path d="M773.7,473.3L767.7,470.9L767.7,475.7Z" fill="#000"/>
<rect x="628.1" y="490.2" width="264.8" height="19.8" fill="#cfdbec"/>
<text x="668.5" y="505.6" font-size="16.3" textLength="177.8" lengthAdjust="spacingAndGlyphs">temperature,reducing sugar</text>
<rect x="628.1" y="513.4" width="264.8" height="23.1" fill="#e8edf6"/>
<text x="738.2" y="530.5" font-size="16.3" textLength="44.0" lengthAdjust="spacingAndGlyphs">acidity</text>
<rect x="628.1" y="539.8" width="264.8" height="23.1" fill="#cfdbec"/>
<text x="737.8" y="556.9" font-size="16.3" textLength="44.0" lengthAdjust="spacingAndGlyphs">acidity</text>
<rect x="628.1" y="566.2" width="264.8" height="23.2" fill="#e8edf6"/>
<text x="738.9" y="583.3" font-size="16.3" textLength="44.0" lengthAdjust="spacingAndGlyphs">acidity</text>
<rect x="1130.9" y="459.5" width="263.8" height="22.2" fill="#5591ca"/>
<text x="1166.8" y="477.5" font-size="16.0" font-weight="bold" textLength="79.1" lengthAdjust="spacingAndGlyphs">rearrange 2</text>
<text x="1275.9" y="477.5" font-size="16.0" font-weight="bold" textLength="80.2" lengthAdjust="spacingAndGlyphs">rearrange 3</text>
<line x1="1245.9" y1="473.5" x2="1271.9" y2="473.5" stroke="#000" stroke-width="1.3"/>
<path d="M1275.9,473.5L1269.9,471.1L1269.9,475.9Z" fill="#000"/>
<rect x="1130.9" y="489.9" width="263.8" height="20.6" fill="#cfdbec"/>
<text x="1221.3" y="505.7" font-size="16.1" textLength="76.4" lengthAdjust="spacingAndGlyphs">temperature</text>
<rect x="1130.9" y="513.3" width="263.8" height="23.3" fill="#e8edf6"/>
<rect x="1130.9" y="540.1" width="263.8" height="22.6" fill="#cfdbec"/>
<text x="1192.1" y="556.9" font-size="16.1" textLength="136.8" lengthAdjust="spacingAndGlyphs">temperature,moisture</text>
<rect x="1130.9" y="565.9" width="263.8" height="23.3" fill="#e8edf6"/>
<text x="1189.4" y="583.0" font-size="16.1" textLength="143.0" lengthAdjust="spacingAndGlyphs">acidity,reducing suger</text>
<rect x="129.3" y="1043.8" width="272.2" height="20.9" fill="#5591ca"/>
<text x="164.2" y="1061.2" font-size="16.2" font-weight="bold" textLength="81.4" lengthAdjust="spacingAndGlyphs">rearrange 3</text>
<text x="284.5" y="1061.2" font-size="16.2" font-weight="bold" textLength="82.5" lengthAdjust="spacingAndGlyphs">rearrange 4</text>
<line x1="251.1" y1="1057.2" x2="276.4" y2="1057.2" stroke="#000" stroke-width="1.3"/>
<path d="M280.4,1057.2L274.4,1054.8L274.4,1059.6Z" fill="#000"/>
<rect x="129.3" y="1072.4" width="272.2" height="20.9" fill="#cfdbec"/>
<text x="141.4" y="1088.5" font-size="16.6" textLength="247.2" lengthAdjust="spacingAndGlyphs">temperature, reducing sugar,moisture</text>
<rect x="129.3" y="1096.3" width="272.2" height="23.4" fill="#e8edf6"/>
<text x="236.4" y="1113.6" font-size="16.6" textLength="58.0" lengthAdjust="spacingAndGlyphs">moisture</text>
<rect x="129.3" y="1122.7" width="272.2" height="23.1" fill="#cfdbec"/>
<text x="245.6" y="1139.9" font-size="16.6" textLength="38.9" lengthAdjust="spacingAndGlyphs">starch</text>
<rect x="129.3" y="1149.1" width="272.2" height="23.1" fill="#e8edf6"/>
<text x="219.2" y="1166.3" font-size="16.6" textLength="91.7" lengthAdjust="spacingAndGlyphs">acidity, starch</text>
<rect x="637.6" y="1038.3" width="278.7" height="22.0" fill="#5591ca"/>
<text x="673.2" y="1056.4" font-size="16.6" font-weight="bold" textLength="83.2" lengthAdjust="spacingAndGlyphs">rearrange 4</text>
<text x="796.8" y="1056.4" font-size="16.6" font-weight="bold" textLength="84.3" lengthAdjust="spacingAndGlyphs">rearrange 5</text>
<line x1="762.3" y1="1052.4" x2="788.4" y2="1052.4" stroke="#000" stroke-width="1.3"/>
<path d="M792.4,1052.4L786.4,1050.0L786.4,1054.8Z" fill="#000"/>
<rect x="637.6" y="1067.7" width="278.7" height="22.0" fill="#cfdbec"/>
<text x="681.6" y="1084.5" font-size="17.0" textLength="190.7" lengthAdjust="spacingAndGlyphs">temperature, reducing sugar</text>
<rect x="637.6" y="1092.6" width="278.7" height="24.6" fill="#e8edf6"/>
<rect x="637.6" y="1120.8" width="278.7" height="23.9" fill="#cfdbec"/>
<text x="726.4" y="1138.5" font-size="17.0" textLength="100.8" lengthAdjust="spacingAndGlyphs">reducing sugar</text>
<rect x="637.6" y="1147.6" width="278.7" height="24.6" fill="#e8edf6"/>
<text x="729.3" y="1165.7" font-size="17.0" textLength="94.2" lengthAdjust="spacingAndGlyphs">acidity, starch</text>
<rect x="1055.9" y="1035.4" width="431.6" height="22.4" fill="#5591ca"/>
<text x="1185.8" y="1054.0" font-size="17.2" font-weight="bold" textLength="86.2" lengthAdjust="spacingAndGlyphs">rearrange 5</text>
<text x="1311.1" y="1054.0" font-size="17.2" font-weight="bold" textLength="46.5" lengthAdjust="spacingAndGlyphs">vacate</text>
<line x1="1275.7" y1="1050.0" x2="1302.5" y2="1050.0" stroke="#000" stroke-width="1.3"/>
<path d="M1306.5,1050.0L1300.5,1047.6L1300.5,1052.4Z" fill="#000"/>
<rect x="1055.9" y="1066.2" width="431.6" height="22.1" fill="#cfdbec"/>
<text x="1055.9" y="1083.1" font-size="17.2" textLength="434.6" lengthAdjust="spacingAndGlyphs">liquefaction ,fermentation,and esterification power,temperature</text>
<rect x="1055.9" y="1091.4" width="431.6" height="24.9" fill="#e8edf6"/>
<text x="1055.9" y="1109.7" font-size="17.2" textLength="434.6" lengthAdjust="spacingAndGlyphs">liquefaction ,fermentation,and esterification power,temperature</text>
<rect x="1055.9" y="1119.4" width="431.6" height="24.6" fill="#cfdbec"/>
<text x="1068.9" y="1137.5" font-size="17.2" textLength="380.1" lengthAdjust="spacingAndGlyphs">fermentation power, esterification power， temperature</text>
<rect x="1055.9" y="1147.7" width="431.6" height="24.6" fill="#e8edf6"/>
<text x="1134.1" y="1165.8" font-size="17.2" textLength="275.5" lengthAdjust="spacingAndGlyphs">acidity, moisture,saccharification power</text>
<rect x="125.0" y="1674.2" width="277.5" height="22.2" fill="#5591ca"/>
<text x="186.6" y="1692.5" font-size="16.8" font-weight="bold" textLength="38.2" lengthAdjust="spacingAndGlyphs">Rank</text>
<text x="256.1" y="1692.5" font-size="16.8" font-weight="bold" textLength="83.8" lengthAdjust="spacingAndGlyphs">rearrange 1</text>
<line x1="226.5" y1="1688.5" x2="250.7" y2="1688.5" stroke="#000" stroke-width="1.3"/>
<path d="M254.7,1688.5L248.7,1686.1L248.7,1690.9Z" fill="#000"/>
<rect x="125.0" y="1704.9" width="277.5" height="21.8" fill="#cfdbec"/>
<text x="191.4" y="1720.3" font-size="17.0" textLength="144.7" lengthAdjust="spacingAndGlyphs">reducing sugar,starch</text>
<text x="121.0" y="1722.8" font-size="19.5" text-anchor="end">EG</text>
<rect x="125.0" y="1729.7" width="277.5" height="25.3" fill="#e8edf6"/>
<text x="121.0" y="1749.4" font-size="19.5" text-anchor="end">SG</text>
<rect x="125.0" y="1757.7" width="277.5" height="24.5" fill="#cfdbec"/>
<text x="223.0" y="1775.7" font-size="17.0" textLength="81.1" lengthAdjust="spacingAndGlyphs">temperature</text>
<text x="121.0" y="1777.0" font-size="19.5" text-anchor="end">MG</text>
<rect x="125.0" y="1785.6" width="277.5" height="23.8" fill="#e8edf6"/>
<text x="181.5" y="1803.3" font-size="17.0" textLength="164.8" lengthAdjust="spacingAndGlyphs">acidity， reducing sugar</text>
<text x="121.0" y="1804.5" font-size="19.5" text-anchor="end">UG</text>
<rect x="623.4" y="1672.7" width="285.3" height="22.8" fill="#5591ca"/>
<text x="663.7" y="1691.5" font-size="17.2" font-weight="bold" textLength="86.2" lengthAdjust="spacingAndGlyphs">rearrange 1</text>
<text x="782.2" y="1691.5" font-size="17.2" font-weight="bold" textLength="86.9" lengthAdjust="spacingAndGlyphs">rearrange 2</text>
<line x1="752.5" y1="1687.5" x2="777.1" y2="1687.5" stroke="#000" stroke-width="1.3"/>
<path d="M781.1,1687.5L775.1,1685.1L775.1,1689.9Z" fill="#000"/>
<rect x="623.4" y="1703.9" width="285.3" height="23.1" fill="#cfdbec"/>
<text x="655.6" y="1720.5" font-size="17.0" textLength="221.5" lengthAdjust="spacingAndGlyphs">moisture，reducing sugar,starch</text>
<rect x="623.4" y="1730.0" width="285.3" height="25.2" fill="#e8edf6"/>
<rect x="623.4" y="1758.2" width="285.3" height="25.6" fill="#cfdbec"/>
<rect x="623.4" y="1786.8" width="285.3" height="25.3" fill="#e8edf6"/>
<text x="702.6" y="1805.2" font-size="17.0" textLength="126.9" lengthAdjust="spacingAndGlyphs">acidity， moisture</text>
<rect x="1120.8" y="1669.2" width="288.7" height="24.2" fill="#5591ca"/>
<text x="1161.3" y="1688.9" font-size="17.6" font-weight="bold" textLength="88.5" lengthAdjust="spacingAndGlyphs">rearrange 2</text>
<text x="1281.7" y="1688.9" font-size="17.6" font-weight="bold" textLength="87.7" lengthAdjust="spacingAndGlyphs">rearrange 3</text>
<line x1="1251.7" y1="1684.9" x2="1276.9" y2="1684.9" stroke="#000" stroke-width="1.3"/>
<path d="M1280.9,1684.9L1274.9,1682.5L1274.9,1687.3Z" fill="#000"/>
<rect x="1120.8" y="1701.2" width="288.7" height="23.7" fill="#cfdbec"/>
<text x="1195.2" y="1717.7" font-size="17.5" textLength="135.2" lengthAdjust="spacingAndGlyphs">temperature, starch</text>
<rect x="1120.8" y="1728.0" width="288.7" height="26.1" fill="#e8edf6"/>
<text x="1243.9" y="1747.0" font-size="17.5" textLength="42.1" lengthAdjust="spacingAndGlyphs">starch</text>
<rect x="1120.8" y="1757.2" width="288.7" height="25.8" fill="#cfdbec"/>
<text x="1223.3" y="1776.0" font-size="17.5" textLength="83.7" lengthAdjust="spacingAndGlyphs">temperature</text>
<rect x="1120.8" y="1786.5" width="288.7" height="25.7" fill="#e8edf6"/>
<text x="1176.9" y="1805.3" font-size="17.5" textLength="176.9" lengthAdjust="spacingAndGlyphs">acidity ， reducing sugar</text>
<rect x="129.3" y="2266.9" width="289.8" height="23.4" fill="#5591ca"/>
<text x="170.4" y="2286.1" font-size="17.5" font-weight="bold" textLength="88.0" lengthAdjust="spacingAndGlyphs">rearrange 3</text>
<text x="290.7" y="2286.1" font-size="17.5" font-weight="bold" textLength="88.0" lengthAdjust="spacingAndGlyphs">rearrange 4</text>
<line x1="260.3" y1="2282.1" x2="286.0" y2="2282.1" stroke="#000" stroke-width="1.3"/>
<path d="M290.0,2282.1L284.0,2279.7L284.0,2284.5Z" fill="#000"/>
<rect x="129.3" y="2298.4" width="289.8" height="23.5" fill="#cfdbec"/>
<text x="232.0" y="2316.2" font-size="17.7" textLength="84.4" lengthAdjust="spacingAndGlyphs">temperature</text>
<rect x="129.3" y="2325.2" width="289.8" height="25.7" fill="#e8edf6"/>
<rect x="129.3" y="2354.2" width="289.8" height="25.6" fill="#cfdbec"/>
<text x="232.0" y="2373.0" font-size="17.7" textLength="84.4" lengthAdjust="spacingAndGlyphs">temperature</text>
<rect x="129.3" y="2382.8" width="289.8" height="25.6" fill="#e8edf6"/>
<text x="186.2" y="2401.6" font-size="17.7" textLength="176.7" lengthAdjust="spacingAndGlyphs">acidity ， reducing sugar</text>
<rect x="620.2" y="2266.5" width="290.8" height="23.8" fill="#5591ca"/>
<text x="661.2" y="2286.0" font-size="17.6" font-weight="bold" textLength="88.4" lengthAdjust="spacingAndGlyphs">rearrange 4</text>
<text x="782.3" y="2286.0" font-size="17.6" font-weight="bold" textLength="88.3" lengthAdjust="spacingAndGlyphs">rearrange 5</text>
<line x1="752.2" y1="2282.0" x2="777.5" y2="2282.0" stroke="#000" stroke-width="1.3"/>
<path d="M781.5,2282.0L775.5,2279.6L775.5,2284.4Z" fill="#000"/>
<rect x="620.2" y="2298.4" width="290.8" height="23.5" fill="#cfdbec"/>
<text x="630.1" y="2316.2" font-size="17.7" textLength="271.3" lengthAdjust="spacingAndGlyphs">moisture, temperature, reducing sugar</text>
<rect x="620.2" y="2324.8" width="290.8" height="26.1" fill="#e8edf6"/>
<text x="745.6" y="2343.9" font-size="17.7" textLength="42.2" lengthAdjust="spacingAndGlyphs">starch</text>
<rect x="620.2" y="2354.2" width="290.8" height="26.0" fill="#cfdbec"/>
<text x="744.9" y="2373.2" font-size="17.7" textLength="42.1" lengthAdjust="spacingAndGlyphs">starch</text>
<rect x="620.2" y="2383.1" width="290.8" height="25.7" fill="#e8edf6"/>
<text x="741.2" y="2402.0" font-size="17.7" textLength="48.4" lengthAdjust="spacingAndGlyphs">acidity</text>
<rect x="1055.4" y="2267.5" width="445.4" height="23.1" fill="#5591ca"/>
<text x="1189.9" y="2286.6" font-size="17.6" font-weight="bold" textLength="88.6" lengthAdjust="spacingAndGlyphs">rearrange 5</text>
<text x="1318.6" y="2286.6" font-size="17.6" font-weight="bold" textLength="48.3" lengthAdjust="spacingAndGlyphs">vacate</text>
<line x1="1283.8" y1="2282.6" x2="1310.9" y2="2282.6" stroke="#000" stroke-width="1.3"/>
<path d="M1314.9,2282.6L1308.9,2280.2L1308.9,2285.0Z" fill="#000"/>
<rect x="1055.4" y="2298.6" width="445.4" height="23.7" fill="#cfdbec"/>
<text x="1129.3" y="2316.5" font-size="17.75" textLength="300.1" lengthAdjust="spacingAndGlyphs">saccharification power,liquefaction power</text>
<rect x="1055.4" y="2325.4" width="445.4" height="25.6" fill="#e8edf6"/>
<text x="1133.3" y="2344.2" font-size="17.75" textLength="289.9" lengthAdjust="spacingAndGlyphs">fermentation power, esterification power</text>
<rect x="1055.4" y="2354.0" width="445.4" height="25.3" fill="#cfdbec"/>
<text x="1133.3" y="2372.7" font-size="17.75" textLength="289.9" lengthAdjust="spacingAndGlyphs">fermentation power, esterification power</text>
<rect x="1055.4" y="2383.0" width="445.4" height="25.5" fill="#e8edf6"/>
<text x="1197.6" y="2401.8" font-size="17.75" textLength="213.3" lengthAdjust="spacingAndGlyphs">saccharification power,acidity</text>
<path d="M466.8,517.0L559.2,517.0L559.2,511.9L571.3,523.2L559.2,534.6L559.2,529.9L466.8,529.9Z" fill="url(#bag)" stroke="#84a6d0" stroke-width="1.1"/>
<path d="M967.3,517.9L1058.8,517.9L1058.8,512.5L1071.7,524.0L1058.8,535.5L1058.8,530.4L967.3,530.4Z" fill="url(#bag)" stroke="#84a6d0" stroke-width="1.1"/>
<path d="M1407.6,518.7L1499.5,518.7L1499.5,513.3L1512.0,525.0L1499.5,536.6L1499.5,530.8L1407.6,530.8Z" fill="url(#bag)" stroke="#84a6d0" stroke-width="1.1"/>
<path d="M466.0,1100.0L558.4,1100.0L558.4,1094.0L571.2,1105.6L558.4,1117.2L558.4,1111.7L466.0,1111.7Z" fill="url(#bag)" stroke="#84a6d0" stroke-width="1.1"/>
<path d="M932.8,1100.0L1025.2,1100.0L1025.2,1094.0L1038.0,1105.6L1025.2,1117.2L1025.2,1111.7L932.8,1111.7Z" fill="url(#bag)" stroke="#84a6d0" stroke-width="1.1"/>
<path d="M466.4,1738.7L558.1,1738.7L558.1,1733.2L570.9,1744.8L558.1,1756.3L558.1,1750.8L466.4,1750.8Z" fill="url(#bag)" stroke="#84a6d0" stroke-width="1.1"/>
<path d="M968.0,1737.3L1060.8,1737.3L1060.8,1731.5L1073.3,1743.0L1060.8,1754.5L1060.8,1749.1L968.0,1749.1Z" fill="url(#bag)" stroke="#84a6d0" stroke-width="1.1"/>
<path d="M1416.2,1738.2L1508.1,1738.2L1508.1,1732.3L1520.6,1743.8L1508.1,1755.4L1508.1,1749.9L1416.2,1749.9Z" fill="url(#bag)" stroke="#84a6d0" stroke-width="1.1"/>
<path d="M466.7,2334.3L559.1,2334.3L559.1,2328.8L572.0,2340.4L559.1,2352.0L559.1,2347.2L466.7,2347.2Z" fill="url(#bag)" stroke="#84a6d0" stroke-width="1.1"/>
<path d="M930.0,2334.3L1022.5,2334.3L1022.5,2328.8L1035.7,2340.4L1022.5,2352.0L1022.5,2347.2L930.0,2347.2Z" fill="url(#bag)" stroke="#84a6d0" stroke-width="1.1"/>
</svg></body></html>
